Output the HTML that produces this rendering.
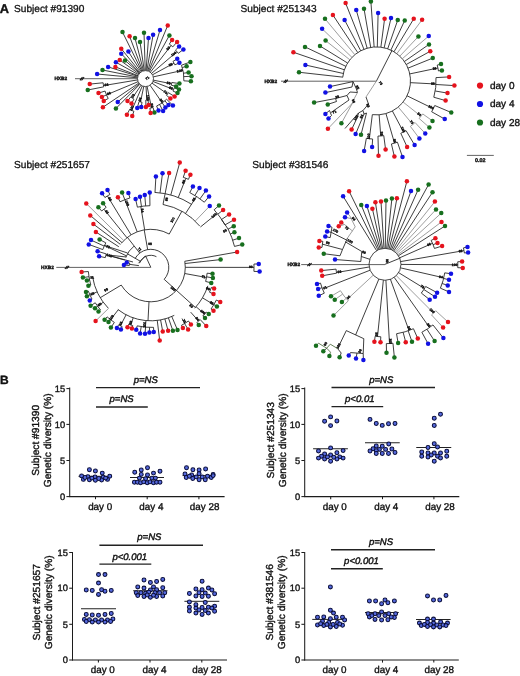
<!DOCTYPE html>
<html><head><meta charset="utf-8"><title>Figure</title>
<style>
html,body{margin:0;padding:0;background:#fff;overflow:hidden;}
svg{display:block;font-family:"Liberation Sans",sans-serif;fill:#111;}
text{text-rendering:geometricPrecision;fill:#111;stroke:#111;stroke-width:0.36px;}
.ti{stroke-width:0.3px;}
.pv{stroke-width:0.42px;}
</style></head><body>
<svg width="520" height="676" viewBox="0 0 520 676">
<rect width="520" height="676" fill="#fff"/>
<g opacity="0.999">
<g id="trees">
<text x="67.20" y="80.40" font-size="4.8" text-anchor="end" font-weight="bold" font-style="normal" fill="#111" stroke="none">HXB2</text>
<line x1="75.00" y1="78.70" x2="137.50" y2="78.70" stroke="#2e2e2e" stroke-width="0.75"/>
<line x1="79.90" y1="80.30" x2="82.50" y2="77.10" stroke="#111" stroke-width="1.1"/>
<line x1="81.50" y1="80.30" x2="84.10" y2="77.10" stroke="#111" stroke-width="1.1"/>
<line x1="153.31" y1="76.87" x2="183.00" y2="70.30" stroke="#1c1c1c" stroke-width="0.85"/>
<path d="M181.50 65.21A38.40755134084963 38.40755134084963 0 0 1 183.84 80.84" fill="none" stroke="#1c1c1c" stroke-width="0.85"/>
<line x1="181.50" y1="65.21" x2="190.40" y2="61.90" stroke="#1c1c1c" stroke-width="0.85"/>
<line x1="182.28" y1="67.55" x2="186.60" y2="66.25" stroke="#1c1c1c" stroke-width="0.85"/>
<line x1="183.53" y1="73.22" x2="188.60" y2="72.50" stroke="#1c1c1c" stroke-width="0.85"/>
<line x1="183.86" y1="76.64" x2="191.50" y2="76.25" stroke="#1c1c1c" stroke-width="0.85"/>
<line x1="183.84" y1="80.84" x2="190.90" y2="81.25" stroke="#1c1c1c" stroke-width="0.85"/>
<text x="179.88" y="71.99" font-size="3.4" font-weight="bold" fill="#000" stroke="none" text-anchor="middle" transform="rotate(-12 179.88 71.99)">100</text>
<line x1="153.35" y1="80.16" x2="171.57" y2="83.77" stroke="#1c1c1c" stroke-width="0.85"/>
<path d="M171.79 82.48A26.578473680657837 26.578473680657837 0 0 1 171.25 85.16" fill="none" stroke="#1c1c1c" stroke-width="0.85"/>
<line x1="171.79" y1="82.48" x2="179.40" y2="83.60" stroke="#1c1c1c" stroke-width="0.85"/>
<line x1="171.25" y1="85.16" x2="176.10" y2="86.40" stroke="#1c1c1c" stroke-width="0.85"/>
<text x="168.43" y="84.15" font-size="3.4" font-weight="bold" fill="#000" stroke="none" text-anchor="middle" transform="rotate(11 168.43 84.15)">85</text>
<line x1="152.96" y1="81.48" x2="173.61" y2="89.46" stroke="#1c1c1c" stroke-width="0.85"/>
<path d="M174.18 87.85A30.13189434118235 30.13189434118235 0 0 1 172.95 91.04" fill="none" stroke="#1c1c1c" stroke-width="0.85"/>
<line x1="174.18" y1="87.85" x2="179.00" y2="89.40" stroke="#1c1c1c" stroke-width="0.85"/>
<line x1="172.95" y1="91.04" x2="177.50" y2="93.10" stroke="#1c1c1c" stroke-width="0.85"/>
<text x="170.62" y="89.30" font-size="3.4" font-weight="bold" fill="#000" stroke="none" text-anchor="middle" transform="rotate(21 170.62 89.30)">99</text>
<line x1="152.05" y1="83.19" x2="167.52" y2="94.01" stroke="#1c1c1c" stroke-width="0.85"/>
<path d="M168.39 92.68A26.87506862737712 26.87506862737712 0 0 1 166.49 95.38" fill="none" stroke="#1c1c1c" stroke-width="0.85"/>
<line x1="168.39" y1="92.68" x2="174.60" y2="96.50" stroke="#1c1c1c" stroke-width="0.85"/>
<line x1="166.49" y1="95.38" x2="170.40" y2="98.50" stroke="#1c1c1c" stroke-width="0.85"/>
<text x="164.90" y="93.18" font-size="3.4" font-weight="bold" fill="#000" stroke="none" text-anchor="middle" transform="rotate(35 164.90 93.18)">71</text>
<line x1="150.04" y1="85.19" x2="162.26" y2="102.93" stroke="#1c1c1c" stroke-width="0.85"/>
<path d="M166.62 99.26A29.539832078341078 29.539832078341078 0 0 1 156.62 105.97" fill="none" stroke="#1c1c1c" stroke-width="0.85"/>
<line x1="166.62" y1="99.26" x2="172.90" y2="105.40" stroke="#1c1c1c" stroke-width="0.85"/>
<line x1="164.90" y1="100.87" x2="168.50" y2="105.00" stroke="#1c1c1c" stroke-width="0.85"/>
<line x1="162.25" y1="102.93" x2="165.40" y2="107.50" stroke="#1c1c1c" stroke-width="0.85"/>
<line x1="159.60" y1="104.56" x2="163.10" y2="111.00" stroke="#1c1c1c" stroke-width="0.85"/>
<line x1="156.62" y1="105.97" x2="158.50" y2="110.60" stroke="#1c1c1c" stroke-width="0.85"/>
<text x="160.44" y="101.29" font-size="3.4" font-weight="bold" fill="#000" stroke="none" text-anchor="middle" transform="rotate(55 160.44 101.29)">96</text>
<line x1="147.10" y1="86.44" x2="151.49" y2="107.87" stroke="#1c1c1c" stroke-width="0.85"/>
<path d="M153.09 107.50A29.87491935474546 29.87491935474546 0 0 1 149.87 108.15" fill="none" stroke="#1c1c1c" stroke-width="0.85"/>
<line x1="153.09" y1="107.50" x2="154.40" y2="112.50" stroke="#1c1c1c" stroke-width="0.85"/>
<line x1="149.87" y1="108.15" x2="150.60" y2="113.10" stroke="#1c1c1c" stroke-width="0.85"/>
<text x="150.85" y="105.73" font-size="3.4" font-weight="bold" fill="#000" stroke="none" text-anchor="middle" transform="rotate(78 150.85 105.73)">88</text>
<line x1="146.01" y1="86.58" x2="146.87" y2="100.04" stroke="#1c1c1c" stroke-width="0.85"/>
<path d="M148.01 99.93A21.482069405543076 21.482069405543076 0 0 1 145.80 100.08" fill="none" stroke="#1c1c1c" stroke-width="0.85"/>
<line x1="148.01" y1="99.93" x2="148.60" y2="104.90" stroke="#1c1c1c" stroke-width="0.85"/>
<line x1="145.80" y1="100.08" x2="145.90" y2="106.90" stroke="#1c1c1c" stroke-width="0.85"/>
<text x="146.67" y="97.84" font-size="3.4" font-weight="bold" fill="#000" stroke="none" text-anchor="middle" transform="rotate(86 146.67 97.84)">100</text>
<line x1="143.81" y1="86.42" x2="140.47" y2="101.88" stroke="#1c1c1c" stroke-width="0.85"/>
<path d="M141.99 102.15A23.81514358805105 23.81514358805105 0 0 1 139.07 101.53" fill="none" stroke="#1c1c1c" stroke-width="0.85"/>
<line x1="141.99" y1="102.15" x2="141.25" y2="107.10" stroke="#1c1c1c" stroke-width="0.85"/>
<line x1="139.07" y1="101.53" x2="137.25" y2="108.00" stroke="#1c1c1c" stroke-width="0.85"/>
<text x="141.15" y="99.75" font-size="3.4" font-weight="bold" fill="#000" stroke="none" text-anchor="middle" transform="rotate(282 141.15 99.75)">94</text>
<line x1="141.02" y1="85.23" x2="132.29" y2="98.12" stroke="#1c1c1c" stroke-width="0.85"/>
<path d="M133.95 99.14A23.565888748645655 23.565888748645655 0 0 1 130.74 96.97" fill="none" stroke="#1c1c1c" stroke-width="0.85"/>
<line x1="133.95" y1="99.14" x2="131.50" y2="103.50" stroke="#1c1c1c" stroke-width="0.85"/>
<line x1="130.74" y1="96.97" x2="127.50" y2="101.00" stroke="#1c1c1c" stroke-width="0.85"/>
<text x="134.09" y="96.47" font-size="3.4" font-weight="bold" fill="#000" stroke="none" text-anchor="middle" transform="rotate(304 134.09 96.47)">73</text>
<line x1="142.32" y1="85.94" x2="131.72" y2="110.42" stroke="#1c1c1c" stroke-width="0.85"/>
<path d="M133.92 111.29A34.67773305016304 34.67773305016304 0 0 1 129.63 109.44" fill="none" stroke="#1c1c1c" stroke-width="0.85"/>
<line x1="129.63" y1="109.44" x2="126.90" y2="114.75" stroke="#1c1c1c" stroke-width="0.85"/>
<line x1="133.92" y1="111.29" x2="132.25" y2="116.00" stroke="#1c1c1c" stroke-width="0.85"/>
<text x="132.99" y="108.49" font-size="3.4" font-weight="bold" fill="#000" stroke="none" text-anchor="middle" transform="rotate(293 132.99 108.49)">100</text>
<line x1="138.11" y1="81.67" x2="106.46" y2="94.85" stroke="#1c1c1c" stroke-width="0.85"/>
<path d="M108.20 98.52A42.28477556254233 42.28477556254233 0 0 1 105.09 91.07" fill="none" stroke="#1c1c1c" stroke-width="0.85"/>
<line x1="108.20" y1="98.52" x2="103.75" y2="100.90" stroke="#1c1c1c" stroke-width="0.85"/>
<line x1="106.51" y1="94.96" x2="101.90" y2="96.90" stroke="#1c1c1c" stroke-width="0.85"/>
<line x1="105.09" y1="91.07" x2="98.50" y2="93.10" stroke="#1c1c1c" stroke-width="0.85"/>
<text x="109.42" y="94.62" font-size="3.4" font-weight="bold" fill="#000" stroke="none" text-anchor="middle" transform="rotate(337 109.42 94.62)">86</text>
<line x1="137.61" y1="79.92" x2="103.50" y2="85.60" stroke="#1c1c1c" stroke-width="0.85"/>
<path d="M103.73 86.85A42.579337712087536 42.579337712087536 0 0 1 103.13 82.78" fill="none" stroke="#1c1c1c" stroke-width="0.85"/>
<line x1="103.73" y1="86.85" x2="87.75" y2="90.00" stroke="#1c1c1c" stroke-width="0.85"/>
<line x1="103.13" y1="82.78" x2="89.75" y2="84.10" stroke="#1c1c1c" stroke-width="0.85"/>
<text x="106.66" y="86.07" font-size="3.4" font-weight="bold" fill="#000" stroke="none" text-anchor="middle" transform="rotate(351 106.66 86.07)">98</text>
<line x1="151.58" y1="73.40" x2="176.95" y2="51.68" stroke="#1c1c1c" stroke-width="0.85"/>
<path d="M175.48 50.05A41.399999999999984 41.399999999999984 0 0 1 178.30 53.33" fill="none" stroke="#1c1c1c" stroke-width="0.85"/>
<line x1="175.48" y1="50.05" x2="179.10" y2="46.60" stroke="#1c1c1c" stroke-width="0.85"/>
<line x1="178.30" y1="53.33" x2="183.40" y2="49.40" stroke="#1c1c1c" stroke-width="0.85"/>
<text x="174.52" y="54.76" font-size="3.4" font-weight="bold" fill="#000" stroke="none" text-anchor="middle" transform="rotate(-41 174.52 54.76)">100</text>
<line x1="152.53" y1="74.78" x2="173.98" y2="63.11" stroke="#1c1c1c" stroke-width="0.85"/>
<path d="M172.99 61.41A32.422352945799666 32.422352945799666 0 0 1 174.87 64.87" fill="none" stroke="#1c1c1c" stroke-width="0.85"/>
<line x1="172.99" y1="61.41" x2="177.25" y2="58.75" stroke="#1c1c1c" stroke-width="0.85"/>
<line x1="174.87" y1="64.87" x2="179.40" y2="62.75" stroke="#1c1c1c" stroke-width="0.85"/>
<text x="171.17" y="65.64" font-size="3.4" font-weight="bold" fill="#000" stroke="none" text-anchor="middle" transform="rotate(-29 171.17 65.64)">85</text>
<line x1="150.39" y1="72.27" x2="171.11" y2="45.47" stroke="#1c1c1c" stroke-width="0.85"/>
<path d="M169.26 44.12A41.87771325480797 41.87771325480797 0 0 1 172.82 46.87" fill="none" stroke="#1c1c1c" stroke-width="0.85"/>
<line x1="169.26" y1="44.12" x2="172.10" y2="40.00" stroke="#1c1c1c" stroke-width="0.85"/>
<line x1="172.82" y1="46.87" x2="177.10" y2="41.90" stroke="#1c1c1c" stroke-width="0.85"/>
<text x="169.15" y="49.00" font-size="3.4" font-weight="bold" fill="#000" stroke="none" text-anchor="middle" transform="rotate(-52 169.15 49.00)">99</text>
<line x1="141.95" y1="71.43" x2="122.50" y2="32.10" stroke="#1c1c1c" stroke-width="0.85"/>
<line x1="142.69" y1="71.11" x2="129.60" y2="36.30" stroke="#1c1c1c" stroke-width="0.85"/>
<line x1="143.49" y1="70.86" x2="135.00" y2="38.10" stroke="#1c1c1c" stroke-width="0.85"/>
<line x1="144.31" y1="70.69" x2="140.00" y2="41.90" stroke="#1c1c1c" stroke-width="0.85"/>
<line x1="145.24" y1="70.60" x2="144.00" y2="32.75" stroke="#1c1c1c" stroke-width="0.85"/>
<line x1="146.09" y1="70.62" x2="148.50" y2="38.10" stroke="#1c1c1c" stroke-width="0.85"/>
<line x1="146.87" y1="70.72" x2="153.10" y2="34.75" stroke="#1c1c1c" stroke-width="0.85"/>
<line x1="147.79" y1="70.93" x2="160.00" y2="30.00" stroke="#1c1c1c" stroke-width="0.85"/>
<line x1="148.59" y1="71.22" x2="167.75" y2="25.40" stroke="#1c1c1c" stroke-width="0.85"/>
<line x1="149.37" y1="71.60" x2="169.40" y2="35.40" stroke="#1c1c1c" stroke-width="0.85"/>
<line x1="139.37" y1="83.74" x2="117.75" y2="101.90" stroke="#1c1c1c" stroke-width="0.85"/>
<line x1="139.87" y1="84.29" x2="115.90" y2="108.50" stroke="#1c1c1c" stroke-width="0.85"/>
<line x1="138.86" y1="83.06" x2="102.90" y2="107.25" stroke="#1c1c1c" stroke-width="0.85"/>
<line x1="137.54" y1="77.84" x2="97.10" y2="74.00" stroke="#1c1c1c" stroke-width="0.85"/>
<line x1="137.66" y1="77.03" x2="102.50" y2="70.00" stroke="#1c1c1c" stroke-width="0.85"/>
<line x1="137.86" y1="76.21" x2="108.10" y2="66.90" stroke="#1c1c1c" stroke-width="0.85"/>
<line x1="138.04" y1="75.70" x2="115.40" y2="66.90" stroke="#1c1c1c" stroke-width="0.85"/>
<line x1="138.50" y1="74.73" x2="115.90" y2="62.25" stroke="#1c1c1c" stroke-width="0.85"/>
<line x1="139.01" y1="73.92" x2="119.75" y2="60.00" stroke="#1c1c1c" stroke-width="0.85"/>
<line x1="139.52" y1="73.29" x2="125.00" y2="60.40" stroke="#1c1c1c" stroke-width="0.85"/>
<line x1="139.91" y1="72.87" x2="121.25" y2="53.75" stroke="#1c1c1c" stroke-width="0.85"/>
<line x1="141.22" y1="71.84" x2="128.40" y2="51.60" stroke="#1c1c1c" stroke-width="0.85"/>
<line x1="140.46" y1="72.39" x2="121.25" y2="48.75" stroke="#1c1c1c" stroke-width="0.85"/>
<circle cx="145.5" cy="78.6" r="8.0" fill="#fff" stroke="#1c1c1c" stroke-width="0.8"/>
<text x="148.00" y="79.10" font-size="3.4" font-weight="bold" fill="#000" stroke="none" text-anchor="middle" transform="rotate(-35 148.00 79.10)">71</text>
<circle cx="122.50" cy="32.10" r="2.25" fill="#176f1e"/>
<circle cx="129.60" cy="36.30" r="2.25" fill="#e5131d"/>
<circle cx="135.00" cy="38.10" r="2.25" fill="#176f1e"/>
<circle cx="140.00" cy="41.90" r="2.25" fill="#176f1e"/>
<circle cx="144.00" cy="32.75" r="2.25" fill="#176f1e"/>
<circle cx="148.50" cy="38.10" r="2.25" fill="#1111e4"/>
<circle cx="153.10" cy="34.75" r="2.25" fill="#1111e4"/>
<circle cx="160.00" cy="30.00" r="2.25" fill="#1111e4"/>
<circle cx="167.75" cy="25.40" r="2.25" fill="#e5131d"/>
<circle cx="169.40" cy="35.40" r="2.25" fill="#176f1e"/>
<circle cx="172.10" cy="40.00" r="2.25" fill="#e5131d"/>
<circle cx="177.10" cy="41.90" r="2.25" fill="#e5131d"/>
<circle cx="179.10" cy="46.60" r="2.25" fill="#1111e4"/>
<circle cx="183.40" cy="49.40" r="2.25" fill="#1111e4"/>
<circle cx="177.25" cy="58.75" r="2.25" fill="#1111e4"/>
<circle cx="179.40" cy="62.75" r="2.25" fill="#1111e4"/>
<circle cx="190.40" cy="61.90" r="2.25" fill="#176f1e"/>
<circle cx="186.60" cy="66.25" r="2.25" fill="#176f1e"/>
<circle cx="188.60" cy="72.50" r="2.25" fill="#176f1e"/>
<circle cx="191.50" cy="76.25" r="2.25" fill="#176f1e"/>
<circle cx="190.90" cy="81.25" r="2.25" fill="#176f1e"/>
<circle cx="179.40" cy="83.60" r="2.25" fill="#176f1e"/>
<circle cx="176.10" cy="86.40" r="2.25" fill="#176f1e"/>
<circle cx="179.00" cy="89.40" r="2.25" fill="#176f1e"/>
<circle cx="177.50" cy="93.10" r="2.25" fill="#176f1e"/>
<circle cx="174.60" cy="96.50" r="2.25" fill="#e5131d"/>
<circle cx="170.40" cy="98.50" r="2.25" fill="#e5131d"/>
<circle cx="172.90" cy="105.40" r="2.25" fill="#1111e4"/>
<circle cx="168.50" cy="105.00" r="2.25" fill="#1111e4"/>
<circle cx="165.40" cy="107.50" r="2.25" fill="#1111e4"/>
<circle cx="163.10" cy="111.00" r="2.25" fill="#1111e4"/>
<circle cx="158.50" cy="110.60" r="2.25" fill="#1111e4"/>
<circle cx="154.40" cy="112.50" r="2.25" fill="#176f1e"/>
<circle cx="150.60" cy="113.10" r="2.25" fill="#e5131d"/>
<circle cx="148.60" cy="104.90" r="2.25" fill="#e5131d"/>
<circle cx="145.90" cy="106.90" r="2.25" fill="#e5131d"/>
<circle cx="141.25" cy="107.10" r="2.25" fill="#1111e4"/>
<circle cx="137.25" cy="108.00" r="2.25" fill="#1111e4"/>
<circle cx="131.50" cy="103.50" r="2.25" fill="#e5131d"/>
<circle cx="127.50" cy="101.00" r="2.25" fill="#e5131d"/>
<circle cx="126.90" cy="114.75" r="2.25" fill="#e5131d"/>
<circle cx="132.25" cy="116.00" r="2.25" fill="#e5131d"/>
<circle cx="117.75" cy="101.90" r="2.25" fill="#1111e4"/>
<circle cx="115.90" cy="108.50" r="2.25" fill="#176f1e"/>
<circle cx="102.90" cy="107.25" r="2.25" fill="#e5131d"/>
<circle cx="103.75" cy="100.90" r="2.25" fill="#e5131d"/>
<circle cx="101.90" cy="96.90" r="2.25" fill="#e5131d"/>
<circle cx="98.50" cy="93.10" r="2.25" fill="#e5131d"/>
<circle cx="87.75" cy="90.00" r="2.25" fill="#176f1e"/>
<circle cx="89.75" cy="84.10" r="2.25" fill="#e5131d"/>
<circle cx="97.10" cy="74.00" r="2.25" fill="#1111e4"/>
<circle cx="102.50" cy="70.00" r="2.25" fill="#176f1e"/>
<circle cx="108.10" cy="66.90" r="2.25" fill="#1111e4"/>
<circle cx="115.40" cy="66.90" r="2.25" fill="#e5131d"/>
<circle cx="115.90" cy="62.25" r="2.25" fill="#1111e4"/>
<circle cx="119.75" cy="60.00" r="2.25" fill="#e5131d"/>
<circle cx="125.00" cy="60.40" r="2.25" fill="#176f1e"/>
<circle cx="121.25" cy="53.75" r="2.25" fill="#1111e4"/>
<circle cx="128.40" cy="51.60" r="2.25" fill="#1111e4"/>
<circle cx="121.25" cy="48.75" r="2.25" fill="#e5131d"/>
<text x="277.20" y="82.90" font-size="4.8" text-anchor="end" font-weight="bold" font-style="normal" fill="#111" stroke="none">HXB2</text>
<line x1="281.00" y1="81.20" x2="376.50" y2="81.20" stroke="#2e2e2e" stroke-width="0.75"/>
<line x1="283.60" y1="82.80" x2="286.20" y2="79.60" stroke="#111" stroke-width="1.1"/>
<line x1="285.20" y1="82.80" x2="287.80" y2="79.60" stroke="#111" stroke-width="1.1"/>
<path d="M342.69 77.35A34.0 34.0 0 1 1 372.36 114.65" fill="none" stroke="#1c1c1c" stroke-width="0.85"/>
<line x1="376.50" y1="80.90" x2="391.94" y2="50.61" stroke="#1c1c1c" stroke-width="0.85"/>
<line x1="409.77" y1="73.91" x2="437.90" y2="68.00" stroke="#1c1c1c" stroke-width="0.85"/>
<path d="M437.21 65.09A62.737527127754376 62.737527127754376 0 0 1 438.44 70.95" fill="none" stroke="#1c1c1c" stroke-width="0.85"/>
<line x1="437.21" y1="65.09" x2="441.00" y2="64.10" stroke="#1c1c1c" stroke-width="0.85"/>
<line x1="438.44" y1="70.95" x2="441.90" y2="70.40" stroke="#1c1c1c" stroke-width="0.85"/>
<text x="434.76" y="69.65" font-size="3.4" font-weight="bold" fill="#000" stroke="none" text-anchor="middle" transform="rotate(-12 434.76 69.65)">96</text>
<line x1="410.45" y1="82.67" x2="436.00" y2="84.00" stroke="#1c1c1c" stroke-width="0.85"/>
<path d="M435.99 77.62A59.580701573580015 59.580701573580015 0 0 1 433.80 97.24" fill="none" stroke="#1c1c1c" stroke-width="0.85"/>
<line x1="435.99" y1="77.62" x2="449.10" y2="76.90" stroke="#1c1c1c" stroke-width="0.85"/>
<line x1="435.97" y1="84.49" x2="454.40" y2="85.60" stroke="#1c1c1c" stroke-width="0.85"/>
<line x1="435.22" y1="90.99" x2="447.50" y2="93.10" stroke="#1c1c1c" stroke-width="0.85"/>
<line x1="433.80" y1="97.24" x2="445.60" y2="100.60" stroke="#1c1c1c" stroke-width="0.85"/>
<text x="432.80" y="84.83" font-size="3.4" font-weight="bold" fill="#000" stroke="none" text-anchor="middle" transform="rotate(3 432.80 84.83)">88</text>
<line x1="407.05" y1="95.81" x2="433.31" y2="108.63" stroke="#1c1c1c" stroke-width="0.85"/>
<path d="M434.72 105.51A63.213186228410365 63.213186228410365 0 0 1 431.66 111.77" fill="none" stroke="#1c1c1c" stroke-width="0.85"/>
<line x1="434.72" y1="105.51" x2="451.25" y2="112.50" stroke="#1c1c1c" stroke-width="0.85"/>
<line x1="431.66" y1="111.77" x2="444.75" y2="119.10" stroke="#1c1c1c" stroke-width="0.85"/>
<text x="430.43" y="108.22" font-size="3.4" font-weight="bold" fill="#000" stroke="none" text-anchor="middle" transform="rotate(26 430.43 108.22)">100</text>
<line x1="403.11" y1="102.06" x2="420.97" y2="116.26" stroke="#8c8c8c" stroke-width="0.85"/>
<path d="M422.74 113.93A56.818602136341006 56.818602136341006 0 0 1 419.14 118.46" fill="none" stroke="#8c8c8c" stroke-width="0.85"/>
<line x1="422.74" y1="113.93" x2="432.50" y2="120.90" stroke="#8c8c8c" stroke-width="0.85"/>
<line x1="419.14" y1="118.46" x2="429.40" y2="127.50" stroke="#8c8c8c" stroke-width="0.85"/>
<text x="418.47" y="115.27" font-size="3.4" font-weight="bold" fill="#000" stroke="none" text-anchor="middle" transform="rotate(38 418.47 115.27)">94</text>
<line x1="398.24" y1="107.04" x2="412.77" y2="124.51" stroke="#8c8c8c" stroke-width="0.85"/>
<path d="M415.05 122.50A56.71696103433273 56.71696103433273 0 0 1 410.38 126.39" fill="none" stroke="#8c8c8c" stroke-width="0.85"/>
<line x1="415.05" y1="122.50" x2="425.25" y2="133.50" stroke="#8c8c8c" stroke-width="0.85"/>
<line x1="410.38" y1="126.39" x2="419.40" y2="138.50" stroke="#8c8c8c" stroke-width="0.85"/>
<text x="410.72" y="123.05" font-size="3.4" font-weight="bold" fill="#000" stroke="none" text-anchor="middle" transform="rotate(50 410.72 123.05)">73</text>
<line x1="392.38" y1="110.97" x2="403.47" y2="131.97" stroke="#1c1c1c" stroke-width="0.85"/>
<path d="M406.01 130.54A57.74860823410989 57.74860823410989 0 0 1 400.79 133.29" fill="none" stroke="#1c1c1c" stroke-width="0.85"/>
<line x1="406.01" y1="130.54" x2="414.60" y2="145.00" stroke="#1c1c1c" stroke-width="0.85"/>
<line x1="400.79" y1="133.29" x2="407.10" y2="146.90" stroke="#1c1c1c" stroke-width="0.85"/>
<text x="401.97" y="130.14" font-size="3.4" font-weight="bold" fill="#000" stroke="none" text-anchor="middle" transform="rotate(62 401.97 130.14)">100</text>
<line x1="385.95" y1="113.56" x2="394.50" y2="143.14" stroke="#1c1c1c" stroke-width="0.85"/>
<path d="M397.45 142.21A64.78753113449478 64.78753113449478 0 0 1 391.41 143.95" fill="none" stroke="#1c1c1c" stroke-width="0.85"/>
<line x1="397.45" y1="142.21" x2="402.50" y2="157.00" stroke="#1c1c1c" stroke-width="0.85"/>
<line x1="391.41" y1="143.95" x2="394.40" y2="156.60" stroke="#1c1c1c" stroke-width="0.85"/>
<text x="393.61" y="141.06" font-size="3.4" font-weight="bold" fill="#000" stroke="none" text-anchor="middle" transform="rotate(74 393.61 141.06)">86</text>
<line x1="379.12" y1="114.80" x2="380.76" y2="135.94" stroke="#1c1c1c" stroke-width="0.85"/>
<path d="M383.76 135.62A55.20093929998348 55.20093929998348 0 0 1 377.97 136.08" fill="none" stroke="#1c1c1c" stroke-width="0.85"/>
<line x1="383.76" y1="135.62" x2="385.60" y2="149.50" stroke="#1c1c1c" stroke-width="0.85"/>
<line x1="377.97" y1="136.08" x2="378.50" y2="155.75" stroke="#1c1c1c" stroke-width="0.85"/>
<text x="380.51" y="133.75" font-size="3.4" font-weight="bold" fill="#000" stroke="none" text-anchor="middle" transform="rotate(86 380.51 133.75)">98</text>
<line x1="372.34" y1="114.64" x2="369.37" y2="138.71" stroke="#1c1c1c" stroke-width="0.85"/>
<path d="M372.63 139.02A58.24628291459074 58.24628291459074 0 0 1 366.35 138.26" fill="none" stroke="#1c1c1c" stroke-width="0.85"/>
<line x1="372.63" y1="139.02" x2="372.10" y2="147.00" stroke="#1c1c1c" stroke-width="0.85"/>
<line x1="366.35" y1="138.26" x2="364.10" y2="151.00" stroke="#1c1c1c" stroke-width="0.85"/>
<text x="369.76" y="136.53" font-size="3.4" font-weight="bold" fill="#000" stroke="none" text-anchor="middle" transform="rotate(277 369.76 136.53)">100</text>
<line x1="363.95" y1="49.30" x2="345.60" y2="3.10" stroke="#1c1c1c" stroke-width="0.85"/>
<line x1="357.74" y1="52.54" x2="332.90" y2="15.00" stroke="#1c1c1c" stroke-width="0.85"/>
<line x1="360.72" y1="50.78" x2="344.60" y2="20.00" stroke="#1c1c1c" stroke-width="0.85"/>
<line x1="354.81" y1="54.72" x2="325.00" y2="18.75" stroke="#8c8c8c" stroke-width="0.85"/>
<line x1="351.96" y1="57.37" x2="322.10" y2="28.75" stroke="#8c8c8c" stroke-width="0.85"/>
<line x1="349.84" y1="59.79" x2="325.60" y2="40.60" stroke="#8c8c8c" stroke-width="0.85"/>
<line x1="347.57" y1="63.03" x2="320.00" y2="46.00" stroke="#1c1c1c" stroke-width="0.85"/>
<line x1="345.79" y1="66.30" x2="305.00" y2="46.90" stroke="#1c1c1c" stroke-width="0.85"/>
<line x1="344.36" y1="69.82" x2="293.40" y2="52.25" stroke="#1c1c1c" stroke-width="0.85"/>
<line x1="343.32" y1="73.48" x2="305.40" y2="65.00" stroke="#1c1c1c" stroke-width="0.85"/>
<line x1="342.71" y1="77.13" x2="299.00" y2="72.25" stroke="#1c1c1c" stroke-width="0.85"/>
<line x1="367.16" y1="48.21" x2="356.25" y2="10.00" stroke="#1c1c1c" stroke-width="0.85"/>
<line x1="370.70" y1="47.40" x2="364.00" y2="8.75" stroke="#1c1c1c" stroke-width="0.85"/>
<line x1="374.11" y1="46.98" x2="370.90" y2="1.50" stroke="#1c1c1c" stroke-width="0.85"/>
<line x1="377.30" y1="46.91" x2="378.10" y2="13.10" stroke="#1c1c1c" stroke-width="0.85"/>
<line x1="380.89" y1="47.19" x2="384.60" y2="18.75" stroke="#1c1c1c" stroke-width="0.85"/>
<line x1="384.15" y1="47.77" x2="391.00" y2="18.10" stroke="#1c1c1c" stroke-width="0.85"/>
<line x1="387.70" y1="48.80" x2="397.75" y2="20.00" stroke="#1c1c1c" stroke-width="0.85"/>
<line x1="390.89" y1="50.09" x2="404.75" y2="20.40" stroke="#1c1c1c" stroke-width="0.85"/>
<line x1="393.98" y1="51.74" x2="413.75" y2="18.75" stroke="#1c1c1c" stroke-width="0.85"/>
<line x1="396.83" y1="53.64" x2="422.10" y2="19.75" stroke="#8c8c8c" stroke-width="0.85"/>
<line x1="399.84" y1="56.17" x2="418.40" y2="36.50" stroke="#8c8c8c" stroke-width="0.85"/>
<line x1="402.29" y1="58.74" x2="428.75" y2="36.00" stroke="#8c8c8c" stroke-width="0.85"/>
<line x1="404.42" y1="61.49" x2="429.00" y2="44.40" stroke="#1c1c1c" stroke-width="0.85"/>
<line x1="406.27" y1="64.48" x2="430.25" y2="51.25" stroke="#1c1c1c" stroke-width="0.85"/>
<line x1="408.01" y1="68.13" x2="432.75" y2="58.10" stroke="#1c1c1c" stroke-width="0.85"/>
<line x1="376.50" y1="80.90" x2="366.00" y2="97.00" stroke="#8c8c8c" stroke-width="0.85"/>
<line x1="353.00" y1="81.60" x2="330.00" y2="86.60" stroke="#1c1c1c" stroke-width="0.85"/>
<polyline points="353.00,81.60 352.00,87.00 325.40,92.60" fill="none" stroke="#1c1c1c" stroke-width="0.85"/>
<polyline points="353.00,81.60 356.00,88.00 357.50,92.50" fill="none" stroke="#1c1c1c" stroke-width="0.85"/>
<text x="356.50" y="88.00" font-size="3.4" font-weight="bold" fill="#000" stroke="none" text-anchor="middle" transform="rotate(60 356.50 88.00)">85</text>
<polyline points="357.50,92.50 350.00,92.00 347.00,95.50" fill="none" stroke="#1c1c1c" stroke-width="0.85"/>
<polyline points="347.00,95.50 335.50,98.50 314.10,102.60" fill="none" stroke="#1c1c1c" stroke-width="0.85"/>
<polyline points="335.50,98.50 336.50,101.50 327.75,104.40" fill="none" stroke="#1c1c1c" stroke-width="0.85"/>
<text x="337.50" y="98.00" font-size="3.4" font-weight="bold" fill="#000" stroke="none" text-anchor="middle" transform="rotate(-15 337.50 98.00)">99</text>
<polyline points="347.00,95.50 349.00,100.00 331.00,112.50" fill="none" stroke="#1c1c1c" stroke-width="0.85"/>
<polyline points="329.50,110.50 331.50,115.50" fill="none" stroke="#1c1c1c" stroke-width="0.85"/>
<line x1="329.50" y1="110.50" x2="325.40" y2="113.90" stroke="#1c1c1c" stroke-width="0.85"/>
<line x1="331.50" y1="115.50" x2="328.50" y2="118.50" stroke="#1c1c1c" stroke-width="0.85"/>
<text x="335.00" y="113.00" font-size="3.4" font-weight="bold" fill="#000" stroke="none" text-anchor="middle" transform="rotate(-30 335.00 113.00)">71</text>
<polyline points="357.50,92.50 354.00,99.00 352.50,103.00 341.40,123.25" fill="none" stroke="#8c8c8c" stroke-width="0.85"/>
<line x1="352.50" y1="103.00" x2="327.90" y2="128.75" stroke="#8c8c8c" stroke-width="0.85"/>
<text x="352.50" y="101.50" font-size="3.4" font-weight="bold" fill="#000" stroke="none" text-anchor="middle" transform="rotate(70 352.50 101.50)">96</text>
<polyline points="366.00,97.00 368.50,104.00 363.00,110.50" fill="none" stroke="#1c1c1c" stroke-width="0.85"/>
<text x="367.00" y="106.00" font-size="3.4" font-weight="bold" fill="#000" stroke="none" text-anchor="middle" transform="rotate(65 367.00 106.00)">88</text>
<polyline points="363.00,110.50 358.50,113.00 345.00,128.50" fill="none" stroke="#1c1c1c" stroke-width="0.85"/>
<polyline points="358.50,113.00 357.50,117.00 351.60,129.50" fill="none" stroke="#1c1c1c" stroke-width="0.85"/>
<text x="357.00" y="118.50" font-size="3.4" font-weight="bold" fill="#000" stroke="none" text-anchor="middle" transform="rotate(-55 357.00 118.50)">100</text>
<polyline points="363.00,110.50 364.00,114.00 355.60,134.10" fill="none" stroke="#1c1c1c" stroke-width="0.85"/>
<polyline points="364.00,114.00 366.50,113.00 361.00,134.75" fill="none" stroke="#1c1c1c" stroke-width="0.85"/>
<text x="362.50" y="117.00" font-size="3.4" font-weight="bold" fill="#000" stroke="none" text-anchor="middle" transform="rotate(-65 362.50 117.00)">94</text>
<circle cx="345.60" cy="3.10" r="2.25" fill="#e5131d"/>
<circle cx="332.90" cy="15.00" r="2.25" fill="#e5131d"/>
<circle cx="344.60" cy="20.00" r="2.25" fill="#1111e4"/>
<circle cx="325.00" cy="18.75" r="2.25" fill="#176f1e"/>
<circle cx="322.10" cy="28.75" r="2.25" fill="#1111e4"/>
<circle cx="325.60" cy="40.60" r="2.25" fill="#176f1e"/>
<circle cx="320.00" cy="46.00" r="2.25" fill="#176f1e"/>
<circle cx="305.00" cy="46.90" r="2.25" fill="#176f1e"/>
<circle cx="293.40" cy="52.25" r="2.25" fill="#e5131d"/>
<circle cx="305.40" cy="65.00" r="2.25" fill="#1111e4"/>
<circle cx="299.00" cy="72.25" r="2.25" fill="#176f1e"/>
<circle cx="356.25" cy="10.00" r="2.25" fill="#1111e4"/>
<circle cx="364.00" cy="8.75" r="2.25" fill="#176f1e"/>
<circle cx="370.90" cy="1.50" r="2.25" fill="#176f1e"/>
<circle cx="378.10" cy="13.10" r="2.25" fill="#1111e4"/>
<circle cx="384.60" cy="18.75" r="2.25" fill="#e5131d"/>
<circle cx="391.00" cy="18.10" r="2.25" fill="#1111e4"/>
<circle cx="397.75" cy="20.00" r="2.25" fill="#176f1e"/>
<circle cx="404.75" cy="20.40" r="2.25" fill="#176f1e"/>
<circle cx="413.75" cy="18.75" r="2.25" fill="#e5131d"/>
<circle cx="422.10" cy="19.75" r="2.25" fill="#e5131d"/>
<circle cx="418.40" cy="36.50" r="2.25" fill="#176f1e"/>
<circle cx="428.75" cy="36.00" r="2.25" fill="#1111e4"/>
<circle cx="429.00" cy="44.40" r="2.25" fill="#176f1e"/>
<circle cx="430.25" cy="51.25" r="2.25" fill="#e5131d"/>
<circle cx="432.75" cy="58.10" r="2.25" fill="#176f1e"/>
<circle cx="441.00" cy="64.10" r="2.25" fill="#176f1e"/>
<circle cx="441.90" cy="70.40" r="2.25" fill="#176f1e"/>
<circle cx="449.10" cy="76.90" r="2.25" fill="#e5131d"/>
<circle cx="454.40" cy="85.60" r="2.25" fill="#e5131d"/>
<circle cx="447.50" cy="93.10" r="2.25" fill="#e5131d"/>
<circle cx="445.60" cy="100.60" r="2.25" fill="#e5131d"/>
<circle cx="451.25" cy="112.50" r="2.25" fill="#176f1e"/>
<circle cx="444.75" cy="119.10" r="2.25" fill="#1111e4"/>
<circle cx="432.50" cy="120.90" r="2.25" fill="#176f1e"/>
<circle cx="429.40" cy="127.50" r="2.25" fill="#176f1e"/>
<circle cx="425.25" cy="133.50" r="2.25" fill="#1111e4"/>
<circle cx="419.40" cy="138.50" r="2.25" fill="#1111e4"/>
<circle cx="414.60" cy="145.00" r="2.25" fill="#1111e4"/>
<circle cx="407.10" cy="146.90" r="2.25" fill="#e5131d"/>
<circle cx="402.50" cy="157.00" r="2.25" fill="#1111e4"/>
<circle cx="394.40" cy="156.60" r="2.25" fill="#e5131d"/>
<circle cx="385.60" cy="149.50" r="2.25" fill="#e5131d"/>
<circle cx="378.50" cy="155.75" r="2.25" fill="#e5131d"/>
<circle cx="372.10" cy="147.00" r="2.25" fill="#1111e4"/>
<circle cx="364.10" cy="151.00" r="2.25" fill="#1111e4"/>
<circle cx="361.00" cy="134.75" r="2.25" fill="#176f1e"/>
<circle cx="355.60" cy="134.10" r="2.25" fill="#1111e4"/>
<circle cx="351.60" cy="129.50" r="2.25" fill="#e5131d"/>
<circle cx="341.40" cy="123.25" r="2.25" fill="#176f1e"/>
<circle cx="327.90" cy="128.75" r="2.25" fill="#e5131d"/>
<circle cx="328.50" cy="118.50" r="2.25" fill="#1111e4"/>
<circle cx="325.40" cy="113.90" r="2.25" fill="#1111e4"/>
<circle cx="327.75" cy="104.40" r="2.25" fill="#176f1e"/>
<circle cx="314.10" cy="102.60" r="2.25" fill="#176f1e"/>
<circle cx="325.40" cy="92.60" r="2.25" fill="#1111e4"/>
<circle cx="330.00" cy="86.60" r="2.25" fill="#1111e4"/>
<text x="379.70" y="83.70" font-size="3.4" font-weight="bold" fill="#000" stroke="none" text-anchor="middle" transform="rotate(55 379.70 83.70)">73</text>
<text x="53.90" y="269.10" font-size="4.8" text-anchor="end" font-weight="bold" font-style="normal" fill="#111" stroke="none">HXB2</text>
<line x1="56.30" y1="267.40" x2="150.80" y2="267.40" stroke="#2e2e2e" stroke-width="0.75"/>
<line x1="64.90" y1="269.00" x2="67.50" y2="265.80" stroke="#111" stroke-width="1.1"/>
<line x1="66.50" y1="269.00" x2="69.10" y2="265.80" stroke="#111" stroke-width="1.1"/>
<path d="M139.52 263.20A12 12 0 0 1 156.43 256.70" fill="none" stroke="#1c1c1c" stroke-width="0.85"/>
<path d="M135.21 258.30A18 18 0 1 1 164.18 279.34" fill="none" stroke="#1c1c1c" stroke-width="0.85"/>
<path d="M121.27 243.39A38 38 0 0 1 169.22 234.06" fill="none" stroke="#1c1c1c" stroke-width="0.85"/>
<path d="M163.01 204.48A64 64 0 0 1 199.83 226.16" fill="none" stroke="#1c1c1c" stroke-width="0.85"/>
<path d="M154.73 192.40A75 75 0 0 1 191.65 204.40" fill="none" stroke="#1c1c1c" stroke-width="0.85"/>
<path d="M184.78 261.31A34.5 34.5 0 0 1 121.23 285.07" fill="none" stroke="#1c1c1c" stroke-width="0.85"/>
<path d="M174.25 315.39A53.5 53.5 0 0 1 117.86 309.46" fill="none" stroke="#1c1c1c" stroke-width="0.85"/>
<path d="M108.36 308.28A59 59 0 0 1 92.53 276.53" fill="none" stroke="#1c1c1c" stroke-width="0.85"/>
<path d="M207.86 285.84A60 60 0 0 1 194.68 308.22" fill="none" stroke="#1c1c1c" stroke-width="0.85"/>
<path d="M125.77 257.19A27 27 0 0 1 134.18 246.02" fill="none" stroke="#1c1c1c" stroke-width="0.85"/>
<polyline points="138.50,263.20 145.50,255.80 150.80,267.30" fill="none" stroke="#1c1c1c" stroke-width="0.85"/>
<line x1="169.22" y1="234.06" x2="181.83" y2="211.32" stroke="#1c1c1c" stroke-width="0.85"/>
<text x="173.60" y="220.56" font-size="3.4" font-weight="bold" fill="#000" stroke="none" text-anchor="middle" transform="rotate(-61 173.60 220.56)">100</text>
<line x1="163.01" y1="204.48" x2="165.11" y2="193.68" stroke="#1c1c1c" stroke-width="0.85"/>
<text x="167.73" y="199.38" font-size="3.4" font-weight="bold" fill="#000" stroke="none" text-anchor="middle" transform="rotate(-80 167.73 199.38)">86</text>
<line x1="147.67" y1="249.57" x2="144.20" y2="229.88" stroke="#1c1c1c" stroke-width="0.85"/>
<text x="150.03" y="245.31" font-size="3.4" font-weight="bold" fill="#000" stroke="none" text-anchor="middle" transform="rotate(0 150.03 245.31)">98</text>
<line x1="164.18" y1="279.34" x2="195.39" y2="307.45" stroke="#1c1c1c" stroke-width="0.85"/>
<text x="172.33" y="289.60" font-size="3.4" font-weight="bold" fill="#000" stroke="none" text-anchor="middle" transform="rotate(42 172.33 289.60)">100</text>
<text x="190.40" y="306.90" font-size="3.4" font-weight="bold" fill="#000" stroke="none" text-anchor="middle" transform="rotate(42 190.40 306.90)">85</text>
<line x1="148.99" y1="301.75" x2="148.00" y2="320.73" stroke="#1c1c1c" stroke-width="0.85"/>
<line x1="121.23" y1="285.07" x2="100.23" y2="297.69" stroke="#1c1c1c" stroke-width="0.85"/>
<text x="106.65" y="290.77" font-size="3.4" font-weight="bold" fill="#000" stroke="none" text-anchor="middle" transform="rotate(-30 106.65 290.77)">99</text>
<line x1="139.72" y1="253.12" x2="127.40" y2="237.36" stroke="#1c1c1c" stroke-width="0.85"/>
<text x="138.75" y="250.10" font-size="3.4" font-weight="bold" fill="#000" stroke="none" text-anchor="middle" transform="rotate(50 138.75 250.10)">71</text>
<line x1="140.41" y1="261.30" x2="127.42" y2="253.80" stroke="#1c1c1c" stroke-width="0.85"/>
<line x1="121.95" y1="242.57" x2="90.25" y2="215.40" stroke="#1c1c1c" stroke-width="0.85"/>
<line x1="120.44" y1="244.45" x2="93.40" y2="224.10" stroke="#1c1c1c" stroke-width="0.85"/>
<line x1="118.84" y1="246.75" x2="95.90" y2="232.00" stroke="#1c1c1c" stroke-width="0.85"/>
<line x1="123.77" y1="240.59" x2="86.25" y2="203.50" stroke="#8c8c8c" stroke-width="0.85"/>
<line x1="126.94" y1="237.72" x2="103.90" y2="209.16" stroke="#1c1c1c" stroke-width="0.85"/>
<path d="M101.69 211.02A74.69794539384313 74.69794539384313 0 0 1 106.18 207.39" fill="none" stroke="#1c1c1c" stroke-width="0.85"/>
<line x1="101.69" y1="211.02" x2="98.40" y2="207.25" stroke="#1c1c1c" stroke-width="0.85"/>
<line x1="106.18" y1="207.39" x2="103.10" y2="203.25" stroke="#1c1c1c" stroke-width="0.85"/>
<text x="105.91" y="212.65" font-size="3.4" font-weight="bold" fill="#000" stroke="none" text-anchor="middle" transform="rotate(51 105.91 212.65)">96</text>
<line x1="131.05" y1="234.83" x2="107.40" y2="195.95" stroke="#1c1c1c" stroke-width="0.85"/>
<path d="M104.91 197.52A83.51401019047779 83.51401019047779 0 0 1 109.95 194.46" fill="none" stroke="#1c1c1c" stroke-width="0.85"/>
<line x1="104.91" y1="197.52" x2="102.10" y2="193.25" stroke="#1c1c1c" stroke-width="0.85"/>
<line x1="109.95" y1="194.46" x2="107.50" y2="190.10" stroke="#1c1c1c" stroke-width="0.85"/>
<text x="109.06" y="199.68" font-size="3.4" font-weight="bold" fill="#000" stroke="none" text-anchor="middle" transform="rotate(59 109.06 199.68)">88</text>
<line x1="137.20" y1="231.82" x2="124.89" y2="199.70" stroke="#1c1c1c" stroke-width="0.85"/>
<path d="M120.03 201.78A72.39129473009224 72.39129473009224 0 0 1 129.93 197.98" fill="none" stroke="#1c1c1c" stroke-width="0.85"/>
<line x1="120.03" y1="201.78" x2="117.90" y2="197.25" stroke="#1c1c1c" stroke-width="0.85"/>
<line x1="124.84" y1="199.72" x2="122.10" y2="192.60" stroke="#1c1c1c" stroke-width="0.85"/>
<line x1="129.93" y1="197.98" x2="128.40" y2="192.90" stroke="#1c1c1c" stroke-width="0.85"/>
<text x="126.04" y="203.69" font-size="3.4" font-weight="bold" fill="#000" stroke="none" text-anchor="middle" transform="rotate(69 126.04 203.69)">100</text>
<line x1="144.63" y1="229.80" x2="140.80" y2="206.50" stroke="#1c1c1c" stroke-width="0.85"/>
<path d="M137.40 207.16A61.61688080388362 61.61688080388362 0 0 1 149.94 205.69" fill="none" stroke="#1c1c1c" stroke-width="0.85"/>
<line x1="137.40" y1="207.16" x2="135.60" y2="199.10" stroke="#1c1c1c" stroke-width="0.85"/>
<line x1="141.47" y1="206.39" x2="140.00" y2="196.80" stroke="#1c1c1c" stroke-width="0.85"/>
<line x1="145.65" y1="205.90" x2="144.75" y2="195.10" stroke="#1c1c1c" stroke-width="0.85"/>
<line x1="149.94" y1="205.69" x2="149.75" y2="192.50" stroke="#1c1c1c" stroke-width="0.85"/>
<text x="141.32" y="210.66" font-size="3.4" font-weight="bold" fill="#000" stroke="none" text-anchor="middle" transform="rotate(81 141.32 210.66)">94</text>
<line x1="126.37" y1="255.80" x2="104.50" y2="245.50" stroke="#1c1c1c" stroke-width="0.85"/>
<path d="M102.79 249.58A51.17548241101398 51.17548241101398 0 0 1 105.83 242.88" fill="none" stroke="#1c1c1c" stroke-width="0.85"/>
<line x1="105.83" y1="242.88" x2="99.60" y2="239.50" stroke="#1c1c1c" stroke-width="0.85"/>
<line x1="104.22" y1="246.11" x2="91.00" y2="240.10" stroke="#1c1c1c" stroke-width="0.85"/>
<line x1="102.79" y1="249.58" x2="88.75" y2="244.40" stroke="#1c1c1c" stroke-width="0.85"/>
<text x="107.40" y="247.86" font-size="3.4" font-weight="bold" fill="#000" stroke="none" text-anchor="middle" transform="rotate(25 107.40 247.86)">73</text>
<line x1="124.79" y1="260.04" x2="106.00" y2="254.80" stroke="#1c1c1c" stroke-width="0.85"/>
<path d="M105.31 257.62A46.511181451345664 46.511181451345664 0 0 1 106.26 253.90" fill="none" stroke="#1c1c1c" stroke-width="0.85"/>
<line x1="105.31" y1="257.62" x2="99.10" y2="256.30" stroke="#1c1c1c" stroke-width="0.85"/>
<line x1="106.26" y1="253.90" x2="97.60" y2="251.30" stroke="#1c1c1c" stroke-width="0.85"/>
<text x="109.08" y="256.66" font-size="3.4" font-weight="bold" fill="#000" stroke="none" text-anchor="middle" transform="rotate(16 109.08 256.66)">100</text>
<line x1="104.50" y1="245.50" x2="127.60" y2="253.00" stroke="#1c1c1c" stroke-width="0.85"/>
<line x1="106.00" y1="254.80" x2="126.50" y2="257.00" stroke="#1c1c1c" stroke-width="0.85"/>
<line x1="111.00" y1="256.00" x2="133.00" y2="262.00" stroke="#1c1c1c" stroke-width="0.85"/>
<line x1="138.91" y1="265.64" x2="129.48" y2="264.33" stroke="#1c1c1c" stroke-width="0.85"/>
<path d="M129.35 265.47A21.52432465940705 21.52432465940705 0 0 1 129.69 263.09" fill="none" stroke="#1c1c1c" stroke-width="0.85"/>
<line x1="129.69" y1="263.09" x2="126.75" y2="262.50" stroke="#1c1c1c" stroke-width="0.85"/>
<line x1="129.35" y1="265.47" x2="123.90" y2="265.00" stroke="#1c1c1c" stroke-width="0.85"/>
<line x1="155.01" y1="192.42" x2="155.90" y2="176.60" stroke="#1c1c1c" stroke-width="0.85"/>
<line x1="160.06" y1="192.87" x2="162.50" y2="173.25" stroke="#1c1c1c" stroke-width="0.85"/>
<line x1="165.10" y1="193.68" x2="169.10" y2="173.10" stroke="#1c1c1c" stroke-width="0.85"/>
<line x1="170.79" y1="195.01" x2="179.75" y2="162.60" stroke="#1c1c1c" stroke-width="0.85"/>
<line x1="178.26" y1="197.51" x2="185.83" y2="178.28" stroke="#1c1c1c" stroke-width="0.85"/>
<path d="M183.24 177.30A95.66609409329439 95.66609409329439 0 0 1 188.43 179.35" fill="none" stroke="#1c1c1c" stroke-width="0.85"/>
<line x1="183.24" y1="177.30" x2="185.60" y2="170.75" stroke="#1c1c1c" stroke-width="0.85"/>
<line x1="188.43" y1="179.35" x2="190.40" y2="174.75" stroke="#1c1c1c" stroke-width="0.85"/>
<text x="184.65" y="182.25" font-size="3.4" font-weight="bold" fill="#000" stroke="none" text-anchor="middle" transform="rotate(-69 184.65 182.25)">86</text>
<line x1="185.51" y1="213.53" x2="196.50" y2="196.50" stroke="#1c1c1c" stroke-width="0.85"/>
<path d="M189.78 192.59A84.26820278135757 84.26820278135757 0 0 1 204.32 202.21" fill="none" stroke="#1c1c1c" stroke-width="0.85"/>
<line x1="189.78" y1="192.59" x2="192.90" y2="186.60" stroke="#1c1c1c" stroke-width="0.85"/>
<line x1="194.86" y1="195.47" x2="199.50" y2="187.90" stroke="#1c1c1c" stroke-width="0.85"/>
<line x1="199.97" y1="198.86" x2="205.90" y2="190.60" stroke="#1c1c1c" stroke-width="0.85"/>
<line x1="204.32" y1="202.21" x2="209.10" y2="196.40" stroke="#1c1c1c" stroke-width="0.85"/>
<text x="194.76" y="200.19" font-size="3.4" font-weight="bold" fill="#000" stroke="none" text-anchor="middle" transform="rotate(-57 194.76 200.19)">98</text>
<line x1="195.16" y1="221.17" x2="209.75" y2="206.00" stroke="#8c8c8c" stroke-width="0.85"/>
<line x1="200.49" y1="226.96" x2="217.20" y2="213.40" stroke="#1c1c1c" stroke-width="0.85"/>
<path d="M214.13 209.82A85.52292090428155 85.52292090428155 0 0 1 225.05 224.86" fill="none" stroke="#1c1c1c" stroke-width="0.85"/>
<line x1="214.13" y1="209.82" x2="219.00" y2="205.40" stroke="#1c1c1c" stroke-width="0.85"/>
<line x1="217.83" y1="214.18" x2="223.10" y2="210.00" stroke="#1c1c1c" stroke-width="0.85"/>
<line x1="221.67" y1="219.42" x2="229.10" y2="214.40" stroke="#1c1c1c" stroke-width="0.85"/>
<line x1="225.05" y1="224.86" x2="234.00" y2="219.75" stroke="#1c1c1c" stroke-width="0.85"/>
<text x="214.72" y="216.42" font-size="3.4" font-weight="bold" fill="#000" stroke="none" text-anchor="middle" transform="rotate(-39 214.72 216.42)">100</text>
<path d="M228.12 229.04A86.27085255171644 86.27085255171644 0 0 1 234.51 246.43" fill="none" stroke="#1c1c1c" stroke-width="0.85"/>
<line x1="228.12" y1="229.04" x2="233.75" y2="226.25" stroke="#1c1c1c" stroke-width="0.85"/>
<line x1="230.36" y1="233.94" x2="234.40" y2="232.25" stroke="#1c1c1c" stroke-width="0.85"/>
<line x1="232.70" y1="240.19" x2="239.00" y2="238.10" stroke="#1c1c1c" stroke-width="0.85"/>
<line x1="234.51" y1="246.43" x2="242.25" y2="244.50" stroke="#1c1c1c" stroke-width="0.85"/>
<text x="225.43" y="231.81" font-size="3.4" font-weight="bold" fill="#000" stroke="none" text-anchor="middle" transform="rotate(-26 225.43 231.81)">85</text>
<line x1="221.50" y1="219.50" x2="228.30" y2="229.40" stroke="#1c1c1c" stroke-width="0.85"/>
<line x1="184.77" y1="261.28" x2="237.10" y2="252.00" stroke="#1c1c1c" stroke-width="0.85"/>
<line x1="185.09" y1="263.52" x2="220.60" y2="259.60" stroke="#1c1c1c" stroke-width="0.85"/>
<line x1="185.30" y1="267.33" x2="254.00" y2="267.40" stroke="#1c1c1c" stroke-width="0.85"/>
<path d="M253.95 264.05A103.20004844960101 103.20004844960101 0 0 1 253.92 271.38" fill="none" stroke="#1c1c1c" stroke-width="0.85"/>
<line x1="253.95" y1="264.05" x2="258.75" y2="263.90" stroke="#1c1c1c" stroke-width="0.85"/>
<line x1="253.92" y1="271.38" x2="259.60" y2="271.60" stroke="#1c1c1c" stroke-width="0.85"/>
<text x="250.80" y="268.40" font-size="3.4" font-weight="bold" fill="#000" stroke="none" text-anchor="middle" transform="rotate(0 250.80 268.40)">99</text>
<line x1="184.74" y1="273.51" x2="206.50" y2="277.50" stroke="#1c1c1c" stroke-width="0.85"/>
<path d="M207.12 273.19A56.62623067095318 56.62623067095318 0 0 1 205.63 281.45" fill="none" stroke="#1c1c1c" stroke-width="0.85"/>
<line x1="207.12" y1="273.19" x2="212.50" y2="273.75" stroke="#1c1c1c" stroke-width="0.85"/>
<line x1="206.62" y1="276.83" x2="212.90" y2="277.90" stroke="#1c1c1c" stroke-width="0.85"/>
<line x1="205.63" y1="281.45" x2="211.25" y2="282.90" stroke="#1c1c1c" stroke-width="0.85"/>
<text x="203.35" y="277.92" font-size="3.4" font-weight="bold" fill="#000" stroke="none" text-anchor="middle" transform="rotate(10 203.35 277.92)">71</text>
<line x1="206.90" y1="288.58" x2="210.41" y2="289.91" stroke="#1c1c1c" stroke-width="0.85"/>
<path d="M211.26 287.55A63.75574881611318 63.75574881611318 0 0 1 209.49 292.20" fill="none" stroke="#1c1c1c" stroke-width="0.85"/>
<line x1="211.26" y1="287.55" x2="214.10" y2="288.50" stroke="#1c1c1c" stroke-width="0.85"/>
<line x1="209.49" y1="292.20" x2="213.50" y2="293.90" stroke="#1c1c1c" stroke-width="0.85"/>
<text x="207.42" y="289.78" font-size="3.4" font-weight="bold" fill="#000" stroke="none" text-anchor="middle" transform="rotate(21 207.42 289.78)">96</text>
<line x1="202.44" y1="297.84" x2="213.88" y2="304.61" stroke="#1c1c1c" stroke-width="0.85"/>
<path d="M216.36 300.05A73.28363192717029 73.28363192717029 0 0 1 211.03 309.04" fill="none" stroke="#1c1c1c" stroke-width="0.85"/>
<line x1="216.36" y1="300.05" x2="220.25" y2="302.00" stroke="#1c1c1c" stroke-width="0.85"/>
<line x1="213.87" y1="304.61" x2="216.90" y2="306.40" stroke="#1c1c1c" stroke-width="0.85"/>
<line x1="211.03" y1="309.04" x2="213.50" y2="310.75" stroke="#1c1c1c" stroke-width="0.85"/>
<text x="211.12" y="303.98" font-size="3.4" font-weight="bold" fill="#000" stroke="none" text-anchor="middle" transform="rotate(31 211.12 303.98)">88</text>
<line x1="196.06" y1="306.69" x2="204.57" y2="314.10" stroke="#1c1c1c" stroke-width="0.85"/>
<path d="M206.26 312.09A71.28512637129991 71.28512637129991 0 0 1 202.81 316.05" fill="none" stroke="#1c1c1c" stroke-width="0.85"/>
<line x1="206.26" y1="312.09" x2="208.75" y2="314.10" stroke="#1c1c1c" stroke-width="0.85"/>
<line x1="202.81" y1="316.05" x2="205.00" y2="318.10" stroke="#1c1c1c" stroke-width="0.85"/>
<text x="202.16" y="313.00" font-size="3.4" font-weight="bold" fill="#000" stroke="none" text-anchor="middle" transform="rotate(41 202.16 313.00)">100</text>
<line x1="190.67" y1="312.14" x2="198.60" y2="321.07" stroke="#1c1c1c" stroke-width="0.85"/>
<path d="M200.21 319.60A71.94639751182173 71.94639751182173 0 0 1 196.83 322.59" fill="none" stroke="#1c1c1c" stroke-width="0.85"/>
<line x1="196.83" y1="322.59" x2="198.75" y2="324.90" stroke="#1c1c1c" stroke-width="0.85"/>
<line x1="200.21" y1="319.60" x2="206.25" y2="326.00" stroke="#1c1c1c" stroke-width="0.85"/>
<text x="196.48" y="319.68" font-size="3.4" font-weight="bold" fill="#000" stroke="none" text-anchor="middle" transform="rotate(48 196.48 319.68)">94</text>
<line x1="182.00" y1="318.55" x2="184.90" y2="323.32" stroke="#1c1c1c" stroke-width="0.85"/>
<path d="M188.44 321.00A65.57674532959403 65.57674532959403 0 0 1 181.50 325.25" fill="none" stroke="#1c1c1c" stroke-width="0.85"/>
<line x1="188.44" y1="321.00" x2="190.90" y2="324.50" stroke="#1c1c1c" stroke-width="0.85"/>
<line x1="184.57" y1="323.52" x2="188.10" y2="329.40" stroke="#1c1c1c" stroke-width="0.85"/>
<line x1="181.50" y1="325.25" x2="182.90" y2="327.90" stroke="#1c1c1c" stroke-width="0.85"/>
<text x="183.23" y="321.58" font-size="3.4" font-weight="bold" fill="#000" stroke="none" text-anchor="middle" transform="rotate(59 183.23 321.58)">73</text>
<line x1="171.76" y1="316.52" x2="177.50" y2="330.00" stroke="#1c1c1c" stroke-width="0.85"/>
<line x1="168.40" y1="317.82" x2="172.90" y2="330.75" stroke="#1c1c1c" stroke-width="0.85"/>
<line x1="164.87" y1="318.92" x2="168.10" y2="330.75" stroke="#1c1c1c" stroke-width="0.85"/>
<line x1="160.58" y1="319.90" x2="162.75" y2="331.60" stroke="#1c1c1c" stroke-width="0.85"/>
<line x1="157.26" y1="320.41" x2="159.70" y2="340.50" stroke="#1c1c1c" stroke-width="0.85"/>
<line x1="145.96" y1="320.58" x2="145.37" y2="327.18" stroke="#1c1c1c" stroke-width="0.85"/>
<path d="M153.54 327.36A60.122577926967345 60.122577926967345 0 0 1 137.16 325.85" fill="none" stroke="#1c1c1c" stroke-width="0.85"/>
<line x1="153.54" y1="327.36" x2="153.75" y2="331.90" stroke="#1c1c1c" stroke-width="0.85"/>
<line x1="149.51" y1="327.41" x2="149.40" y2="332.60" stroke="#1c1c1c" stroke-width="0.85"/>
<line x1="145.57" y1="327.19" x2="145.00" y2="333.75" stroke="#1c1c1c" stroke-width="0.85"/>
<line x1="141.21" y1="326.65" x2="140.10" y2="333.50" stroke="#1c1c1c" stroke-width="0.85"/>
<line x1="137.16" y1="325.85" x2="136.25" y2="329.75" stroke="#1c1c1c" stroke-width="0.85"/>
<text x="145.65" y="324.99" font-size="3.4" font-weight="bold" fill="#000" stroke="none" text-anchor="middle" transform="rotate(275 145.65 324.99)">100</text>
<line x1="133.20" y1="317.82" x2="130.72" y2="324.95" stroke="#1c1c1c" stroke-width="0.85"/>
<path d="M132.79 325.63A61.05193205516911 61.05193205516911 0 0 1 128.68 324.21" fill="none" stroke="#1c1c1c" stroke-width="0.85"/>
<line x1="132.79" y1="325.63" x2="131.90" y2="328.50" stroke="#1c1c1c" stroke-width="0.85"/>
<line x1="128.68" y1="324.21" x2="127.50" y2="327.25" stroke="#1c1c1c" stroke-width="0.85"/>
<text x="131.77" y="322.93" font-size="3.4" font-weight="bold" fill="#000" stroke="none" text-anchor="middle" transform="rotate(289 131.77 322.93)">86</text>
<line x1="126.12" y1="314.77" x2="120.39" y2="325.79" stroke="#1c1c1c" stroke-width="0.85"/>
<path d="M122.20 326.70A65.92329069334977 65.92329069334977 0 0 1 118.62 324.83" fill="none" stroke="#1c1c1c" stroke-width="0.85"/>
<line x1="122.20" y1="326.70" x2="120.90" y2="329.40" stroke="#1c1c1c" stroke-width="0.85"/>
<line x1="118.62" y1="324.83" x2="116.90" y2="327.90" stroke="#1c1c1c" stroke-width="0.85"/>
<text x="121.86" y="323.95" font-size="3.4" font-weight="bold" fill="#000" stroke="none" text-anchor="middle" transform="rotate(297 121.86 323.95)">98</text>
<line x1="118.23" y1="309.75" x2="110.58" y2="319.72" stroke="#1c1c1c" stroke-width="0.85"/>
<path d="M114.34 322.40A66.06844431431766 66.06844431431766 0 0 1 107.13 316.88" fill="none" stroke="#1c1c1c" stroke-width="0.85"/>
<line x1="114.34" y1="322.40" x2="110.90" y2="327.60" stroke="#1c1c1c" stroke-width="0.85"/>
<line x1="110.34" y1="319.53" x2="108.50" y2="321.90" stroke="#1c1c1c" stroke-width="0.85"/>
<line x1="107.13" y1="316.88" x2="104.60" y2="319.75" stroke="#1c1c1c" stroke-width="0.85"/>
<text x="112.53" y="318.18" font-size="3.4" font-weight="bold" fill="#000" stroke="none" text-anchor="middle" transform="rotate(307 112.53 318.18)">100</text>
<line x1="108.51" y1="308.44" x2="95.60" y2="321.00" stroke="#8c8c8c" stroke-width="0.85"/>
<line x1="103.23" y1="302.21" x2="97.66" y2="306.29" stroke="#1c1c1c" stroke-width="0.85"/>
<path d="M100.41 309.79A65.91125638372678 65.91125638372678 0 0 1 95.25 302.78" fill="none" stroke="#1c1c1c" stroke-width="0.85"/>
<line x1="100.41" y1="309.79" x2="98.50" y2="311.40" stroke="#1c1c1c" stroke-width="0.85"/>
<line x1="97.66" y1="306.30" x2="95.00" y2="308.25" stroke="#1c1c1c" stroke-width="0.85"/>
<line x1="95.25" y1="302.78" x2="90.60" y2="305.75" stroke="#1c1c1c" stroke-width="0.85"/>
<text x="100.24" y="305.40" font-size="3.4" font-weight="bold" fill="#000" stroke="none" text-anchor="middle" transform="rotate(324 100.24 305.40)">85</text>
<line x1="97.14" y1="291.83" x2="90.00" y2="295.09" stroke="#1c1c1c" stroke-width="0.85"/>
<path d="M92.03 299.16A66.8478910998741 66.8478910998741 0 0 1 88.34 291.11" fill="none" stroke="#1c1c1c" stroke-width="0.85"/>
<line x1="92.03" y1="299.16" x2="89.75" y2="300.40" stroke="#1c1c1c" stroke-width="0.85"/>
<line x1="89.91" y1="294.89" x2="86.90" y2="296.25" stroke="#1c1c1c" stroke-width="0.85"/>
<line x1="88.34" y1="291.11" x2="86.00" y2="292.00" stroke="#1c1c1c" stroke-width="0.85"/>
<text x="92.91" y="294.76" font-size="3.4" font-weight="bold" fill="#000" stroke="none" text-anchor="middle" transform="rotate(335 92.91 294.76)">99</text>
<line x1="92.71" y1="277.61" x2="89.19" y2="278.23" stroke="#1c1c1c" stroke-width="0.85"/>
<path d="M90.80 285.04A62.57044259877138 62.57044259877138 0 0 1 88.37 271.54" fill="none" stroke="#1c1c1c" stroke-width="0.85"/>
<line x1="90.80" y1="285.04" x2="88.40" y2="285.75" stroke="#1c1c1c" stroke-width="0.85"/>
<line x1="89.54" y1="280.05" x2="86.90" y2="280.60" stroke="#1c1c1c" stroke-width="0.85"/>
<line x1="88.94" y1="276.68" x2="82.90" y2="277.60" stroke="#1c1c1c" stroke-width="0.85"/>
<line x1="88.37" y1="271.54" x2="81.60" y2="272.00" stroke="#1c1c1c" stroke-width="0.85"/>
<text x="92.34" y="278.68" font-size="3.4" font-weight="bold" fill="#000" stroke="none" text-anchor="middle" transform="rotate(350 92.34 278.68)">71</text>
<circle cx="102.10" cy="193.25" r="2.25" fill="#1111e4"/>
<circle cx="107.50" cy="190.10" r="2.25" fill="#1111e4"/>
<circle cx="117.90" cy="197.25" r="2.25" fill="#e5131d"/>
<circle cx="122.10" cy="192.60" r="2.25" fill="#176f1e"/>
<circle cx="128.40" cy="192.90" r="2.25" fill="#1111e4"/>
<circle cx="135.60" cy="199.10" r="2.25" fill="#1111e4"/>
<circle cx="140.00" cy="196.80" r="2.25" fill="#1111e4"/>
<circle cx="144.75" cy="195.10" r="2.25" fill="#1111e4"/>
<circle cx="149.75" cy="192.50" r="2.25" fill="#1111e4"/>
<circle cx="155.90" cy="176.60" r="2.25" fill="#1111e4"/>
<circle cx="162.50" cy="173.25" r="2.25" fill="#1111e4"/>
<circle cx="169.10" cy="173.10" r="2.25" fill="#e5131d"/>
<circle cx="179.75" cy="162.60" r="2.25" fill="#e5131d"/>
<circle cx="185.60" cy="170.75" r="2.25" fill="#e5131d"/>
<circle cx="190.40" cy="174.75" r="2.25" fill="#e5131d"/>
<circle cx="192.90" cy="186.60" r="2.25" fill="#1111e4"/>
<circle cx="199.50" cy="187.90" r="2.25" fill="#1111e4"/>
<circle cx="205.90" cy="190.60" r="2.25" fill="#1111e4"/>
<circle cx="209.10" cy="196.40" r="2.25" fill="#1111e4"/>
<circle cx="209.75" cy="206.00" r="2.25" fill="#1111e4"/>
<circle cx="219.00" cy="205.40" r="2.25" fill="#176f1e"/>
<circle cx="223.10" cy="210.00" r="2.25" fill="#e5131d"/>
<circle cx="229.10" cy="214.40" r="2.25" fill="#e5131d"/>
<circle cx="234.00" cy="219.75" r="2.25" fill="#e5131d"/>
<circle cx="233.75" cy="226.25" r="2.25" fill="#176f1e"/>
<circle cx="234.40" cy="232.25" r="2.25" fill="#176f1e"/>
<circle cx="239.00" cy="238.10" r="2.25" fill="#176f1e"/>
<circle cx="242.25" cy="244.50" r="2.25" fill="#176f1e"/>
<circle cx="237.10" cy="252.00" r="2.25" fill="#e5131d"/>
<circle cx="220.60" cy="259.60" r="2.25" fill="#176f1e"/>
<circle cx="258.75" cy="263.90" r="2.25" fill="#1111e4"/>
<circle cx="259.60" cy="271.60" r="2.25" fill="#1111e4"/>
<circle cx="212.50" cy="273.75" r="2.25" fill="#176f1e"/>
<circle cx="212.90" cy="277.90" r="2.25" fill="#176f1e"/>
<circle cx="211.25" cy="282.90" r="2.25" fill="#176f1e"/>
<circle cx="214.10" cy="288.50" r="2.25" fill="#e5131d"/>
<circle cx="213.50" cy="293.90" r="2.25" fill="#e5131d"/>
<circle cx="220.25" cy="302.00" r="2.25" fill="#e5131d"/>
<circle cx="216.90" cy="306.40" r="2.25" fill="#176f1e"/>
<circle cx="213.50" cy="310.75" r="2.25" fill="#e5131d"/>
<circle cx="208.75" cy="314.10" r="2.25" fill="#176f1e"/>
<circle cx="205.00" cy="318.10" r="2.25" fill="#176f1e"/>
<circle cx="198.75" cy="324.90" r="2.25" fill="#176f1e"/>
<circle cx="206.25" cy="326.00" r="2.25" fill="#e5131d"/>
<circle cx="190.90" cy="324.50" r="2.25" fill="#e5131d"/>
<circle cx="188.10" cy="329.40" r="2.25" fill="#e5131d"/>
<circle cx="182.90" cy="327.90" r="2.25" fill="#e5131d"/>
<circle cx="177.50" cy="330.00" r="2.25" fill="#176f1e"/>
<circle cx="172.90" cy="330.75" r="2.25" fill="#176f1e"/>
<circle cx="168.10" cy="330.75" r="2.25" fill="#e5131d"/>
<circle cx="162.75" cy="331.60" r="2.25" fill="#e5131d"/>
<circle cx="159.70" cy="340.50" r="2.25" fill="#e5131d"/>
<circle cx="153.75" cy="331.90" r="2.25" fill="#1111e4"/>
<circle cx="149.40" cy="332.60" r="2.25" fill="#1111e4"/>
<circle cx="145.00" cy="333.75" r="2.25" fill="#1111e4"/>
<circle cx="140.10" cy="333.50" r="2.25" fill="#1111e4"/>
<circle cx="136.25" cy="329.75" r="2.25" fill="#1111e4"/>
<circle cx="131.90" cy="328.50" r="2.25" fill="#e5131d"/>
<circle cx="127.50" cy="327.25" r="2.25" fill="#e5131d"/>
<circle cx="120.90" cy="329.40" r="2.25" fill="#1111e4"/>
<circle cx="116.90" cy="327.90" r="2.25" fill="#1111e4"/>
<circle cx="110.90" cy="327.60" r="2.25" fill="#176f1e"/>
<circle cx="108.50" cy="321.90" r="2.25" fill="#176f1e"/>
<circle cx="104.60" cy="319.75" r="2.25" fill="#176f1e"/>
<circle cx="95.60" cy="321.00" r="2.25" fill="#e5131d"/>
<circle cx="98.50" cy="311.40" r="2.25" fill="#176f1e"/>
<circle cx="95.00" cy="308.25" r="2.25" fill="#176f1e"/>
<circle cx="90.60" cy="305.75" r="2.25" fill="#176f1e"/>
<circle cx="89.75" cy="300.40" r="2.25" fill="#1111e4"/>
<circle cx="86.90" cy="296.25" r="2.25" fill="#176f1e"/>
<circle cx="86.00" cy="292.00" r="2.25" fill="#176f1e"/>
<circle cx="88.40" cy="285.75" r="2.25" fill="#176f1e"/>
<circle cx="86.90" cy="280.60" r="2.25" fill="#176f1e"/>
<circle cx="82.90" cy="277.60" r="2.25" fill="#176f1e"/>
<circle cx="81.60" cy="272.00" r="2.25" fill="#e5131d"/>
<circle cx="126.75" cy="262.50" r="2.25" fill="#1111e4"/>
<circle cx="123.90" cy="265.00" r="2.25" fill="#1111e4"/>
<circle cx="99.10" cy="256.30" r="2.25" fill="#1111e4"/>
<circle cx="97.60" cy="251.30" r="2.25" fill="#1111e4"/>
<circle cx="88.75" cy="244.40" r="2.25" fill="#1111e4"/>
<circle cx="91.00" cy="240.10" r="2.25" fill="#1111e4"/>
<circle cx="99.60" cy="239.50" r="2.25" fill="#176f1e"/>
<circle cx="95.90" cy="232.00" r="2.25" fill="#e5131d"/>
<circle cx="93.40" cy="224.10" r="2.25" fill="#e5131d"/>
<circle cx="90.25" cy="215.40" r="2.25" fill="#e5131d"/>
<circle cx="86.25" cy="203.50" r="2.25" fill="#e5131d"/>
<circle cx="98.40" cy="207.25" r="2.25" fill="#176f1e"/>
<circle cx="103.10" cy="203.25" r="2.25" fill="#176f1e"/>
<text x="300.20" y="266.30" font-size="4.8" text-anchor="end" font-weight="bold" font-style="normal" fill="#111" stroke="none">HXB2</text>
<line x1="301.20" y1="264.60" x2="385.00" y2="264.60" stroke="#2e2e2e" stroke-width="0.75"/>
<line x1="307.40" y1="266.20" x2="310.00" y2="263.00" stroke="#111" stroke-width="1.1"/>
<line x1="309.00" y1="266.20" x2="311.60" y2="263.00" stroke="#111" stroke-width="1.1"/>
<line x1="385.00" y1="264.30" x2="400.00" y2="258.20" stroke="#1c1c1c" stroke-width="0.85"/>
<line x1="399.63" y1="257.83" x2="432.50" y2="243.30" stroke="#1c1c1c" stroke-width="0.85"/>
<path d="M431.14 240.45A51.93505559831432 51.93505559831432 0 0 1 434.46 248.45" fill="none" stroke="#1c1c1c" stroke-width="0.85"/>
<line x1="431.14" y1="240.45" x2="435.40" y2="238.25" stroke="#1c1c1c" stroke-width="0.85"/>
<line x1="433.09" y1="244.70" x2="437.50" y2="242.90" stroke="#1c1c1c" stroke-width="0.85"/>
<line x1="434.46" y1="248.45" x2="442.10" y2="246.00" stroke="#1c1c1c" stroke-width="0.85"/>
<text x="429.57" y="245.59" font-size="3.4" font-weight="bold" fill="#000" stroke="none" text-anchor="middle" transform="rotate(-24 429.57 245.59)">96</text>
<line x1="400.76" y1="261.57" x2="464.00" y2="250.60" stroke="#1c1c1c" stroke-width="0.85"/>
<path d="M463.47 247.84A80.17911199308708 80.17911199308708 0 0 1 464.38 253.03" fill="none" stroke="#1c1c1c" stroke-width="0.85"/>
<line x1="463.47" y1="247.84" x2="467.50" y2="247.00" stroke="#1c1c1c" stroke-width="0.85"/>
<line x1="464.38" y1="253.03" x2="468.10" y2="252.50" stroke="#1c1c1c" stroke-width="0.85"/>
<text x="460.85" y="252.15" font-size="3.4" font-weight="bold" fill="#000" stroke="none" text-anchor="middle" transform="rotate(-10 460.85 252.15)">88</text>
<line x1="401.00" y1="264.41" x2="457.80" y2="264.80" stroke="#1c1c1c" stroke-width="0.85"/>
<path d="M457.76 261.75A72.80171701271888 72.80171701271888 0 0 1 457.72 267.67" fill="none" stroke="#1c1c1c" stroke-width="0.85"/>
<line x1="457.76" y1="261.75" x2="462.10" y2="261.60" stroke="#1c1c1c" stroke-width="0.85"/>
<line x1="457.72" y1="267.67" x2="462.75" y2="267.90" stroke="#1c1c1c" stroke-width="0.85"/>
<text x="454.60" y="265.78" font-size="3.4" font-weight="bold" fill="#000" stroke="none" text-anchor="middle" transform="rotate(0 454.60 265.78)">100</text>
<line x1="400.59" y1="267.88" x2="443.80" y2="277.80" stroke="#1c1c1c" stroke-width="0.85"/>
<path d="M444.72 272.85A60.32984336130835 60.32984336130835 0 0 1 440.40 288.19" fill="none" stroke="#1c1c1c" stroke-width="0.85"/>
<line x1="444.72" y1="272.85" x2="451.00" y2="273.75" stroke="#1c1c1c" stroke-width="0.85"/>
<line x1="443.65" y1="278.46" x2="449.00" y2="279.75" stroke="#1c1c1c" stroke-width="0.85"/>
<line x1="442.18" y1="283.53" x2="447.75" y2="285.40" stroke="#1c1c1c" stroke-width="0.85"/>
<line x1="440.40" y1="288.19" x2="449.00" y2="291.90" stroke="#1c1c1c" stroke-width="0.85"/>
<text x="440.68" y="278.08" font-size="3.4" font-weight="bold" fill="#000" stroke="none" text-anchor="middle" transform="rotate(13 440.68 278.08)">94</text>
<line x1="398.64" y1="272.66" x2="424.50" y2="288.50" stroke="#1c1c1c" stroke-width="0.85"/>
<path d="M425.67 286.47A46.32375200693484 46.32375200693484 0 0 1 421.32 293.06" fill="none" stroke="#1c1c1c" stroke-width="0.85"/>
<line x1="425.67" y1="286.47" x2="437.10" y2="292.70" stroke="#1c1c1c" stroke-width="0.85"/>
<line x1="423.86" y1="289.52" x2="435.00" y2="296.75" stroke="#1c1c1c" stroke-width="0.85"/>
<line x1="421.32" y1="293.06" x2="429.70" y2="299.70" stroke="#1c1c1c" stroke-width="0.85"/>
<text x="421.77" y="287.83" font-size="3.4" font-weight="bold" fill="#000" stroke="none" text-anchor="middle" transform="rotate(31 421.77 287.83)">73</text>
<line x1="396.29" y1="275.64" x2="433.50" y2="313.00" stroke="#8c8c8c" stroke-width="0.85"/>
<path d="M435.69 310.72A68.73092462640088 68.73092462640088 0 0 1 431.52 314.90" fill="none" stroke="#8c8c8c" stroke-width="0.85"/>
<line x1="435.69" y1="310.72" x2="448.00" y2="322.00" stroke="#8c8c8c" stroke-width="0.85"/>
<line x1="431.52" y1="314.90" x2="443.10" y2="327.50" stroke="#8c8c8c" stroke-width="0.85"/>
<text x="431.24" y="311.73" font-size="3.4" font-weight="bold" fill="#000" stroke="none" text-anchor="middle" transform="rotate(45 431.24 311.73)">100</text>
<line x1="394.21" y1="277.38" x2="429.50" y2="327.50" stroke="#1c1c1c" stroke-width="0.85"/>
<path d="M432.96 324.91A77.29482518254375 77.29482518254375 0 0 1 421.86 332.24" fill="none" stroke="#1c1c1c" stroke-width="0.85"/>
<line x1="432.96" y1="324.91" x2="443.40" y2="338.10" stroke="#1c1c1c" stroke-width="0.85"/>
<line x1="426.93" y1="329.23" x2="434.60" y2="341.10" stroke="#1c1c1c" stroke-width="0.85"/>
<line x1="421.86" y1="332.24" x2="428.10" y2="343.75" stroke="#1c1c1c" stroke-width="0.85"/>
<text x="427.66" y="325.88" font-size="3.4" font-weight="bold" fill="#000" stroke="none" text-anchor="middle" transform="rotate(55 427.66 325.88)">86</text>
<line x1="390.45" y1="279.34" x2="409.00" y2="330.50" stroke="#1c1c1c" stroke-width="0.85"/>
<path d="M413.44 328.72A70.4161913198946 70.4161913198946 0 0 1 396.55 333.76" fill="none" stroke="#1c1c1c" stroke-width="0.85"/>
<line x1="413.44" y1="328.72" x2="417.80" y2="338.60" stroke="#1c1c1c" stroke-width="0.85"/>
<line x1="408.18" y1="330.79" x2="412.00" y2="341.75" stroke="#1c1c1c" stroke-width="0.85"/>
<line x1="403.12" y1="332.34" x2="405.75" y2="342.20" stroke="#1c1c1c" stroke-width="0.85"/>
<line x1="396.55" y1="333.76" x2="398.10" y2="343.10" stroke="#1c1c1c" stroke-width="0.85"/>
<text x="407.91" y="328.49" font-size="3.4" font-weight="bold" fill="#000" stroke="none" text-anchor="middle" transform="rotate(70 407.91 328.49)">98</text>
<line x1="385.91" y1="280.27" x2="389.50" y2="343.50" stroke="#1c1c1c" stroke-width="0.85"/>
<path d="M392.96 343.23A79.3277378979131 79.3277378979131 0 0 1 386.34 343.62" fill="none" stroke="#1c1c1c" stroke-width="0.85"/>
<line x1="392.96" y1="343.23" x2="394.40" y2="357.50" stroke="#1c1c1c" stroke-width="0.85"/>
<line x1="386.34" y1="343.62" x2="386.50" y2="352.80" stroke="#1c1c1c" stroke-width="0.85"/>
<text x="389.32" y="341.31" font-size="3.4" font-weight="bold" fill="#000" stroke="none" text-anchor="middle" transform="rotate(87 389.32 341.31)">100</text>
<line x1="383.35" y1="280.21" x2="377.50" y2="336.50" stroke="#1c1c1c" stroke-width="0.85"/>
<path d="M380.81 336.77A72.58849771141429 72.58849771141429 0 0 1 375.15 336.22" fill="none" stroke="#1c1c1c" stroke-width="0.85"/>
<line x1="380.81" y1="336.77" x2="380.50" y2="342.20" stroke="#1c1c1c" stroke-width="0.85"/>
<line x1="375.15" y1="336.22" x2="374.40" y2="341.70" stroke="#1c1c1c" stroke-width="0.85"/>
<text x="377.83" y="334.32" font-size="3.4" font-weight="bold" fill="#000" stroke="none" text-anchor="middle" transform="rotate(276 377.83 334.32)">85</text>
<line x1="369.22" y1="266.97" x2="336.50" y2="272.50" stroke="#1c1c1c" stroke-width="0.85"/>
<path d="M336.62 273.16A49.1883116197334 49.1883116197334 0 0 1 336.05 269.14" fill="none" stroke="#1c1c1c" stroke-width="0.85"/>
<line x1="336.05" y1="269.14" x2="321.25" y2="270.60" stroke="#1c1c1c" stroke-width="0.85"/>
<line x1="336.62" y1="273.16" x2="322.20" y2="275.80" stroke="#1c1c1c" stroke-width="0.85"/>
<text x="339.66" y="272.97" font-size="3.4" font-weight="bold" fill="#000" stroke="none" text-anchor="middle" transform="rotate(350 339.66 272.97)">99</text>
<line x1="370.12" y1="270.18" x2="322.50" y2="289.00" stroke="#1c1c1c" stroke-width="0.85"/>
<path d="M324.31 293.16A67.20372013512346 67.20372013512346 0 0 1 320.48 283.09" fill="none" stroke="#1c1c1c" stroke-width="0.85"/>
<line x1="324.31" y1="293.16" x2="318.75" y2="295.80" stroke="#1c1c1c" stroke-width="0.85"/>
<line x1="321.99" y1="287.66" x2="318.10" y2="289.10" stroke="#1c1c1c" stroke-width="0.85"/>
<line x1="320.48" y1="283.09" x2="317.00" y2="284.10" stroke="#1c1c1c" stroke-width="0.85"/>
<text x="325.48" y="288.82" font-size="3.4" font-weight="bold" fill="#000" stroke="none" text-anchor="middle" transform="rotate(338 325.48 288.82)">71</text>
<line x1="373.26" y1="275.17" x2="347.00" y2="299.50" stroke="#8c8c8c" stroke-width="0.85"/>
<path d="M348.30 300.86A51.798069462094816 51.798069462094816 0 0 1 340.44 290.71" fill="none" stroke="#8c8c8c" stroke-width="0.85"/>
<line x1="346.06" y1="298.45" x2="341.90" y2="302.10" stroke="#8c8c8c" stroke-width="0.85"/>
<line x1="342.65" y1="294.13" x2="334.75" y2="299.70" stroke="#8c8c8c" stroke-width="0.85"/>
<line x1="340.44" y1="290.71" x2="331.00" y2="296.30" stroke="#8c8c8c" stroke-width="0.85"/>
<line x1="348.30" y1="300.86" x2="333.50" y2="315.60" stroke="#8c8c8c" stroke-width="0.85"/>
<text x="349.35" y="298.33" font-size="3.4" font-weight="bold" fill="#000" stroke="none" text-anchor="middle" transform="rotate(317 349.35 298.33)">96</text>
<line x1="377.94" y1="249.94" x2="349.10" y2="191.25" stroke="#1c1c1c" stroke-width="0.85"/>
<line x1="376.61" y1="250.68" x2="343.10" y2="196.25" stroke="#1c1c1c" stroke-width="0.85"/>
<line x1="379.05" y1="249.45" x2="361.25" y2="205.00" stroke="#1c1c1c" stroke-width="0.85"/>
<line x1="380.26" y1="249.02" x2="366.90" y2="206.00" stroke="#1c1c1c" stroke-width="0.85"/>
<line x1="381.46" y1="248.70" x2="372.40" y2="208.75" stroke="#1c1c1c" stroke-width="0.85"/>
<line x1="382.55" y1="248.49" x2="375.40" y2="202.25" stroke="#1c1c1c" stroke-width="0.85"/>
<line x1="383.98" y1="248.33" x2="381.00" y2="201.60" stroke="#1c1c1c" stroke-width="0.85"/>
<line x1="385.25" y1="248.30" x2="386.00" y2="200.40" stroke="#1c1c1c" stroke-width="0.85"/>
<line x1="386.67" y1="248.39" x2="391.90" y2="198.50" stroke="#1c1c1c" stroke-width="0.85"/>
<line x1="387.84" y1="248.55" x2="396.90" y2="198.25" stroke="#1c1c1c" stroke-width="0.85"/>
<line x1="389.08" y1="248.83" x2="406.90" y2="181.25" stroke="#1c1c1c" stroke-width="0.85"/>
<line x1="390.35" y1="249.22" x2="411.00" y2="191.00" stroke="#1c1c1c" stroke-width="0.85"/>
<line x1="391.49" y1="249.68" x2="418.10" y2="189.75" stroke="#1c1c1c" stroke-width="0.85"/>
<line x1="392.67" y1="250.26" x2="428.60" y2="184.50" stroke="#1c1c1c" stroke-width="0.85"/>
<line x1="393.81" y1="250.94" x2="432.50" y2="192.25" stroke="#1c1c1c" stroke-width="0.85"/>
<line x1="394.96" y1="251.78" x2="434.90" y2="201.60" stroke="#8c8c8c" stroke-width="0.85"/>
<line x1="395.90" y1="252.59" x2="436.00" y2="209.50" stroke="#8c8c8c" stroke-width="0.85"/>
<line x1="396.83" y1="253.53" x2="441.25" y2="213.10" stroke="#8c8c8c" stroke-width="0.85"/>
<line x1="397.80" y1="254.70" x2="441.50" y2="221.90" stroke="#8c8c8c" stroke-width="0.85"/>
<line x1="398.49" y1="255.69" x2="445.00" y2="226.00" stroke="#1c1c1c" stroke-width="0.85"/>
<polyline points="369.80,259.30 361.30,256.50" fill="none" stroke="#1c1c1c" stroke-width="0.85"/>
<polyline points="361.80,251.50 360.80,261.50" fill="none" stroke="#1c1c1c" stroke-width="0.85"/>
<text x="363.50" y="253.50" font-size="3.4" font-weight="bold" fill="#000" stroke="none" text-anchor="middle" transform="rotate(20 363.50 253.50)">88</text>
<line x1="360.80" y1="261.50" x2="335.00" y2="259.50" stroke="#1c1c1c" stroke-width="0.85"/>
<line x1="361.80" y1="251.50" x2="345.30" y2="241.80" stroke="#1c1c1c" stroke-width="0.85"/>
<text x="349.50" y="242.20" font-size="3.4" font-weight="bold" fill="#000" stroke="none" text-anchor="middle" transform="rotate(30 349.50 242.20)">100</text>
<polyline points="347.50,238.00 342.50,249.50" fill="none" stroke="#1c1c1c" stroke-width="0.85"/>
<polyline points="347.50,238.00 355.20,226.80 350.20,216.50" fill="none" stroke="#8c8c8c" stroke-width="0.85"/>
<line x1="350.20" y1="216.50" x2="347.10" y2="212.60" stroke="#8c8c8c" stroke-width="0.85"/>
<polyline points="351.20,218.60 345.00,217.25" fill="none" stroke="#8c8c8c" stroke-width="0.85"/>
<text x="352.80" y="219.50" font-size="3.4" font-weight="bold" fill="#000" stroke="none" text-anchor="middle" transform="rotate(50 352.80 219.50)">94</text>
<polyline points="352.50,231.00 344.50,224.50" fill="none" stroke="#8c8c8c" stroke-width="0.85"/>
<line x1="344.50" y1="224.50" x2="341.25" y2="222.60" stroke="#8c8c8c" stroke-width="0.85"/>
<line x1="344.50" y1="224.50" x2="338.75" y2="226.25" stroke="#8c8c8c" stroke-width="0.85"/>
<text x="346.00" y="229.00" font-size="3.4" font-weight="bold" fill="#000" stroke="none" text-anchor="middle" transform="rotate(40 346.00 229.00)">73</text>
<polyline points="346.50,240.00 331.20,232.30" fill="none" stroke="#1c1c1c" stroke-width="0.85"/>
<polyline points="332.00,227.20 330.20,237.60" fill="none" stroke="#1c1c1c" stroke-width="0.85"/>
<line x1="332.00" y1="227.20" x2="328.50" y2="225.90" stroke="#1c1c1c" stroke-width="0.85"/>
<line x1="331.20" y1="232.30" x2="327.10" y2="231.60" stroke="#1c1c1c" stroke-width="0.85"/>
<line x1="330.20" y1="237.60" x2="325.30" y2="236.60" stroke="#1c1c1c" stroke-width="0.85"/>
<text x="335.00" y="231.80" font-size="3.4" font-weight="bold" fill="#000" stroke="none" text-anchor="middle" transform="rotate(28 335.00 231.80)">100</text>
<polyline points="342.50,249.50 340.00,255.80 323.75,253.70" fill="none" stroke="#1c1c1c" stroke-width="0.85"/>
<polyline points="342.50,249.50 322.50,244.20" fill="none" stroke="#1c1c1c" stroke-width="0.85"/>
<polyline points="322.80,241.30 322.00,247.40" fill="none" stroke="#1c1c1c" stroke-width="0.85"/>
<line x1="322.80" y1="241.30" x2="319.40" y2="241.10" stroke="#1c1c1c" stroke-width="0.85"/>
<line x1="322.00" y1="247.40" x2="318.75" y2="247.40" stroke="#1c1c1c" stroke-width="0.85"/>
<text x="327.50" y="244.00" font-size="3.4" font-weight="bold" fill="#000" stroke="none" text-anchor="middle" transform="rotate(12 327.50 244.00)">86</text>
<polyline points="378.86,279.07 355.60,335.00" fill="none" stroke="#1c1c1c" stroke-width="0.85"/>
<polyline points="337.60,348.60 346.30,330.60 363.80,338.70 363.20,353.50" fill="none" stroke="#1c1c1c" stroke-width="0.85"/>
<polyline points="363.20,353.50 350.50,352.60" fill="none" stroke="#1c1c1c" stroke-width="0.85"/>
<line x1="350.50" y1="352.60" x2="348.75" y2="355.40" stroke="#1c1c1c" stroke-width="0.85"/>
<line x1="357.00" y1="353.00" x2="356.00" y2="358.50" stroke="#1c1c1c" stroke-width="0.85"/>
<line x1="363.20" y1="353.50" x2="363.40" y2="360.00" stroke="#1c1c1c" stroke-width="0.85"/>
<text x="361.00" y="351.50" font-size="3.4" font-weight="bold" fill="#000" stroke="none" text-anchor="middle" transform="rotate(-65 361.00 351.50)">98</text>
<polyline points="337.60,348.60 341.20,353.00 339.60,357.25" fill="none" stroke="#1c1c1c" stroke-width="0.85"/>
<text x="339.50" y="346.50" font-size="3.4" font-weight="bold" fill="#000" stroke="none" text-anchor="middle" transform="rotate(-65 339.50 346.50)">100</text>
<polyline points="337.60,348.60 330.30,344.20 326.70,348.20" fill="none" stroke="#4a6a3a" stroke-width="0.85"/>
<text x="326.50" y="344.50" font-size="3.4" font-weight="bold" fill="#000" stroke="none" text-anchor="middle" transform="rotate(-60 326.50 344.50)">85</text>
<line x1="326.70" y1="348.20" x2="318.50" y2="343.20" stroke="#4a6a3a" stroke-width="0.85"/>
<line x1="318.50" y1="343.20" x2="316.00" y2="345.75" stroke="#4a6a3a" stroke-width="0.85"/>
<line x1="326.70" y1="348.20" x2="323.30" y2="351.25" stroke="#1c1c1c" stroke-width="0.85"/>
<polyline points="326.70,348.20 330.50,352.20 329.40,355.90" fill="none" stroke="#4a6a3a" stroke-width="0.85"/>
<circle cx="385.0" cy="264.3" r="16.0" fill="none" stroke="#1c1c1c" stroke-width="0.8"/>
<text x="386.00" y="260.80" font-size="3.4" font-weight="bold" fill="#000" stroke="none" text-anchor="middle" transform="rotate(90 386.00 260.80)">99</text>
<circle cx="349.10" cy="191.25" r="2.25" fill="#e5131d"/>
<circle cx="343.10" cy="196.25" r="2.25" fill="#1111e4"/>
<circle cx="361.25" cy="205.00" r="2.25" fill="#176f1e"/>
<circle cx="366.90" cy="206.00" r="2.25" fill="#1111e4"/>
<circle cx="372.40" cy="208.75" r="2.25" fill="#e5131d"/>
<circle cx="375.40" cy="202.25" r="2.25" fill="#e5131d"/>
<circle cx="381.00" cy="201.60" r="2.25" fill="#e5131d"/>
<circle cx="386.00" cy="200.40" r="2.25" fill="#176f1e"/>
<circle cx="391.90" cy="198.50" r="2.25" fill="#176f1e"/>
<circle cx="396.90" cy="198.25" r="2.25" fill="#e5131d"/>
<circle cx="406.90" cy="181.25" r="2.25" fill="#e5131d"/>
<circle cx="411.00" cy="191.00" r="2.25" fill="#1111e4"/>
<circle cx="418.10" cy="189.75" r="2.25" fill="#176f1e"/>
<circle cx="428.60" cy="184.50" r="2.25" fill="#176f1e"/>
<circle cx="432.50" cy="192.25" r="2.25" fill="#176f1e"/>
<circle cx="434.90" cy="201.60" r="2.25" fill="#e5131d"/>
<circle cx="436.00" cy="209.50" r="2.25" fill="#176f1e"/>
<circle cx="441.25" cy="213.10" r="2.25" fill="#176f1e"/>
<circle cx="441.50" cy="221.90" r="2.25" fill="#e5131d"/>
<circle cx="445.00" cy="226.00" r="2.25" fill="#176f1e"/>
<circle cx="435.40" cy="238.25" r="2.25" fill="#e5131d"/>
<circle cx="437.50" cy="242.90" r="2.25" fill="#e5131d"/>
<circle cx="442.10" cy="246.00" r="2.25" fill="#e5131d"/>
<circle cx="467.50" cy="247.00" r="2.25" fill="#1111e4"/>
<circle cx="468.10" cy="252.50" r="2.25" fill="#1111e4"/>
<circle cx="462.10" cy="261.60" r="2.25" fill="#e5131d"/>
<circle cx="462.75" cy="267.90" r="2.25" fill="#e5131d"/>
<circle cx="451.00" cy="273.75" r="2.25" fill="#1111e4"/>
<circle cx="449.00" cy="279.75" r="2.25" fill="#1111e4"/>
<circle cx="447.75" cy="285.40" r="2.25" fill="#1111e4"/>
<circle cx="449.00" cy="291.90" r="2.25" fill="#1111e4"/>
<circle cx="437.10" cy="292.70" r="2.25" fill="#1111e4"/>
<circle cx="435.00" cy="296.75" r="2.25" fill="#1111e4"/>
<circle cx="429.70" cy="299.70" r="2.25" fill="#1111e4"/>
<circle cx="448.00" cy="322.00" r="2.25" fill="#e5131d"/>
<circle cx="443.10" cy="327.50" r="2.25" fill="#e5131d"/>
<circle cx="443.40" cy="338.10" r="2.25" fill="#1111e4"/>
<circle cx="434.60" cy="341.10" r="2.25" fill="#176f1e"/>
<circle cx="428.10" cy="343.75" r="2.25" fill="#1111e4"/>
<circle cx="417.80" cy="338.60" r="2.25" fill="#e5131d"/>
<circle cx="412.00" cy="341.75" r="2.25" fill="#176f1e"/>
<circle cx="405.75" cy="342.20" r="2.25" fill="#e5131d"/>
<circle cx="398.10" cy="343.10" r="2.25" fill="#176f1e"/>
<circle cx="394.40" cy="357.50" r="2.25" fill="#176f1e"/>
<circle cx="386.50" cy="352.80" r="2.25" fill="#176f1e"/>
<circle cx="380.50" cy="342.20" r="2.25" fill="#e5131d"/>
<circle cx="374.40" cy="341.70" r="2.25" fill="#e5131d"/>
<circle cx="363.40" cy="360.00" r="2.25" fill="#1111e4"/>
<circle cx="356.00" cy="358.50" r="2.25" fill="#1111e4"/>
<circle cx="348.75" cy="355.40" r="2.25" fill="#1111e4"/>
<circle cx="339.60" cy="357.25" r="2.25" fill="#176f1e"/>
<circle cx="329.40" cy="355.90" r="2.25" fill="#176f1e"/>
<circle cx="323.30" cy="351.25" r="2.25" fill="#176f1e"/>
<circle cx="316.00" cy="345.75" r="2.25" fill="#176f1e"/>
<circle cx="333.50" cy="315.60" r="2.25" fill="#176f1e"/>
<circle cx="341.90" cy="302.10" r="2.25" fill="#176f1e"/>
<circle cx="334.75" cy="299.70" r="2.25" fill="#176f1e"/>
<circle cx="331.00" cy="296.30" r="2.25" fill="#176f1e"/>
<circle cx="318.75" cy="295.80" r="2.25" fill="#1111e4"/>
<circle cx="318.10" cy="289.10" r="2.25" fill="#1111e4"/>
<circle cx="317.00" cy="284.10" r="2.25" fill="#1111e4"/>
<circle cx="322.20" cy="275.80" r="2.25" fill="#e5131d"/>
<circle cx="321.25" cy="270.60" r="2.25" fill="#e5131d"/>
<circle cx="335.00" cy="259.50" r="2.25" fill="#1111e4"/>
<circle cx="323.75" cy="253.70" r="2.25" fill="#176f1e"/>
<circle cx="318.75" cy="247.40" r="2.25" fill="#e5131d"/>
<circle cx="319.40" cy="241.10" r="2.25" fill="#e5131d"/>
<circle cx="325.30" cy="236.60" r="2.25" fill="#1111e4"/>
<circle cx="327.10" cy="231.60" r="2.25" fill="#1111e4"/>
<circle cx="328.50" cy="225.90" r="2.25" fill="#1111e4"/>
<circle cx="338.75" cy="226.25" r="2.25" fill="#e5131d"/>
<circle cx="341.25" cy="222.60" r="2.25" fill="#e5131d"/>
<circle cx="345.00" cy="217.25" r="2.25" fill="#1111e4"/>
<circle cx="347.10" cy="212.60" r="2.25" fill="#1111e4"/>
</g>
<g id="legend">
<circle cx="480" cy="85.6" r="3.1" fill="#e5131d"/>
<text x="490.00" y="88.60" font-size="10" text-anchor="start" font-weight="normal" font-style="normal" >day 0</text>
<circle cx="480" cy="104.0" r="3.1" fill="#1111e4"/>
<text x="490.00" y="107.00" font-size="10" text-anchor="start" font-weight="normal" font-style="normal" >day 4</text>
<circle cx="480" cy="122.5" r="3.1" fill="#176f1e"/>
<text x="490.00" y="125.50" font-size="10" text-anchor="start" font-weight="normal" font-style="normal" >day 28</text>
<line x1="466.90" y1="155.40" x2="493.80" y2="155.40" stroke="#222" stroke-width="0.7"/>
<text x="480.30" y="162.20" font-size="5.4" text-anchor="middle" font-weight="bold" font-style="normal" >0.02</text>
<text x="-0.30" y="12.70" font-size="12.8" text-anchor="start" font-weight="bold" font-style="normal" >A</text>
<text x="14.00" y="11.80" font-size="10.15" text-anchor="start" font-weight="normal" font-style="normal" class="ti">Subject #91390</text>
<text x="240.60" y="11.80" font-size="10.15" text-anchor="start" font-weight="normal" font-style="normal" class="ti">Subject #251343</text>
<text x="14.00" y="168.20" font-size="10.15" text-anchor="start" font-weight="normal" font-style="normal" class="ti">Subject #251657</text>
<text x="252.30" y="168.40" font-size="10.15" text-anchor="start" font-weight="normal" font-style="normal" class="ti">Subject #381546</text>
<text x="0.10" y="384.20" font-size="12.0" text-anchor="start" font-weight="bold" font-style="normal" >B</text>
</g>
<g id="plots">
<line x1="69.70" y1="387.60" x2="69.70" y2="497.12" stroke="#1c1c1c" stroke-width="1.05"/>
<line x1="69.17" y1="496.60" x2="224.60" y2="496.60" stroke="#1c1c1c" stroke-width="1.05"/>
<line x1="66.40" y1="388.60" x2="69.70" y2="388.60" stroke="#1c1c1c" stroke-width="1.05"/>
<text x="65.10" y="391.80" font-size="9.3" text-anchor="end" font-weight="normal" font-style="normal" >15</text>
<line x1="66.40" y1="424.40" x2="69.70" y2="424.40" stroke="#1c1c1c" stroke-width="1.05"/>
<text x="65.10" y="427.60" font-size="9.3" text-anchor="end" font-weight="normal" font-style="normal" >10</text>
<line x1="66.40" y1="460.50" x2="69.70" y2="460.50" stroke="#1c1c1c" stroke-width="1.05"/>
<text x="65.10" y="463.70" font-size="9.3" text-anchor="end" font-weight="normal" font-style="normal" >5</text>
<line x1="66.40" y1="496.60" x2="69.70" y2="496.60" stroke="#1c1c1c" stroke-width="1.05"/>
<text x="65.10" y="499.80" font-size="9.3" text-anchor="end" font-weight="normal" font-style="normal" >0</text>
<line x1="95.50" y1="496.60" x2="95.50" y2="499.20" stroke="#1c1c1c" stroke-width="1.05"/>
<line x1="147.20" y1="496.60" x2="147.20" y2="499.20" stroke="#1c1c1c" stroke-width="1.05"/>
<line x1="198.90" y1="496.60" x2="198.90" y2="499.20" stroke="#1c1c1c" stroke-width="1.05"/>
<text x="100.20" y="509.90" font-size="9.85" text-anchor="middle" font-weight="normal" font-style="normal" >day 0</text>
<text x="151.40" y="509.90" font-size="9.85" text-anchor="middle" font-weight="normal" font-style="normal" >day 4</text>
<text x="204.60" y="509.90" font-size="9.85" text-anchor="middle" font-weight="normal" font-style="normal" >day 28</text>
<text font-size="10.2" text-anchor="middle" transform="translate(38.90 440.3) rotate(-90)">Subject #91390</text>
<text font-size="10.2" text-anchor="middle" transform="translate(51.20 440.3) rotate(-90)">Genetic diversity (%)</text>
<line x1="96.00" y1="387.60" x2="200.00" y2="387.60" stroke="#222" stroke-width="1.4"/>
<text x="145.75" y="383.00" font-size="9.55" text-anchor="middle" font-weight="normal" font-style="italic" class="pv">p=NS</text>
<line x1="96.00" y1="407.00" x2="147.80" y2="407.00" stroke="#222" stroke-width="1.4"/>
<text x="121.60" y="401.90" font-size="9.55" text-anchor="middle" font-weight="normal" font-style="italic" class="pv">p=NS</text>
<line x1="78.50" y1="476.30" x2="111.90" y2="476.30" stroke="#222" stroke-width="1.0"/>
<line x1="130.00" y1="477.50" x2="164.00" y2="477.50" stroke="#222" stroke-width="1.0"/>
<line x1="182.50" y1="475.60" x2="215.00" y2="475.60" stroke="#222" stroke-width="1.0"/>
<circle cx="89.40" cy="469.75" r="1.95" fill="#566ade" stroke="#090d3a" stroke-width="1.05"/>
<circle cx="95.40" cy="471.00" r="1.95" fill="#566ade" stroke="#090d3a" stroke-width="1.05"/>
<circle cx="102.25" cy="473.10" r="1.95" fill="#566ade" stroke="#090d3a" stroke-width="1.05"/>
<circle cx="81.60" cy="475.90" r="1.95" fill="#566ade" stroke="#090d3a" stroke-width="1.05"/>
<circle cx="87.90" cy="476.60" r="1.95" fill="#566ade" stroke="#090d3a" stroke-width="1.05"/>
<circle cx="95.00" cy="476.90" r="1.95" fill="#566ade" stroke="#090d3a" stroke-width="1.05"/>
<circle cx="103.10" cy="477.10" r="1.95" fill="#566ade" stroke="#090d3a" stroke-width="1.05"/>
<circle cx="109.75" cy="476.25" r="1.95" fill="#566ade" stroke="#090d3a" stroke-width="1.05"/>
<circle cx="83.40" cy="479.40" r="1.95" fill="#566ade" stroke="#090d3a" stroke-width="1.05"/>
<circle cx="89.40" cy="479.75" r="1.95" fill="#566ade" stroke="#090d3a" stroke-width="1.05"/>
<circle cx="95.40" cy="480.25" r="1.95" fill="#566ade" stroke="#090d3a" stroke-width="1.05"/>
<circle cx="101.60" cy="480.00" r="1.95" fill="#566ade" stroke="#090d3a" stroke-width="1.05"/>
<circle cx="107.50" cy="479.40" r="1.95" fill="#566ade" stroke="#090d3a" stroke-width="1.05"/>
<circle cx="91.90" cy="478.10" r="1.95" fill="#566ade" stroke="#090d3a" stroke-width="1.05"/>
<circle cx="98.75" cy="478.50" r="1.95" fill="#566ade" stroke="#090d3a" stroke-width="1.05"/>
<circle cx="85.00" cy="477.50" r="1.95" fill="#566ade" stroke="#090d3a" stroke-width="1.05"/>
<circle cx="105.60" cy="478.10" r="1.95" fill="#566ade" stroke="#090d3a" stroke-width="1.05"/>
<circle cx="147.50" cy="467.75" r="1.95" fill="#566ade" stroke="#090d3a" stroke-width="1.05"/>
<circle cx="141.25" cy="470.00" r="1.95" fill="#566ade" stroke="#090d3a" stroke-width="1.05"/>
<circle cx="134.75" cy="472.25" r="1.95" fill="#566ade" stroke="#090d3a" stroke-width="1.05"/>
<circle cx="160.00" cy="471.25" r="1.95" fill="#566ade" stroke="#090d3a" stroke-width="1.05"/>
<circle cx="153.50" cy="473.10" r="1.95" fill="#566ade" stroke="#090d3a" stroke-width="1.05"/>
<circle cx="141.25" cy="474.40" r="1.95" fill="#566ade" stroke="#090d3a" stroke-width="1.05"/>
<circle cx="147.50" cy="475.00" r="1.95" fill="#566ade" stroke="#090d3a" stroke-width="1.05"/>
<circle cx="139.40" cy="478.10" r="1.95" fill="#566ade" stroke="#090d3a" stroke-width="1.05"/>
<circle cx="145.60" cy="478.75" r="1.95" fill="#566ade" stroke="#090d3a" stroke-width="1.05"/>
<circle cx="151.90" cy="478.10" r="1.95" fill="#566ade" stroke="#090d3a" stroke-width="1.05"/>
<circle cx="155.40" cy="478.10" r="1.95" fill="#566ade" stroke="#090d3a" stroke-width="1.05"/>
<circle cx="134.40" cy="482.25" r="1.95" fill="#566ade" stroke="#090d3a" stroke-width="1.05"/>
<circle cx="137.50" cy="482.25" r="1.95" fill="#566ade" stroke="#090d3a" stroke-width="1.05"/>
<circle cx="140.60" cy="482.75" r="1.95" fill="#566ade" stroke="#090d3a" stroke-width="1.05"/>
<circle cx="143.75" cy="481.90" r="1.95" fill="#566ade" stroke="#090d3a" stroke-width="1.05"/>
<circle cx="147.25" cy="482.75" r="1.95" fill="#566ade" stroke="#090d3a" stroke-width="1.05"/>
<circle cx="150.00" cy="481.90" r="1.95" fill="#566ade" stroke="#090d3a" stroke-width="1.05"/>
<circle cx="153.50" cy="482.75" r="1.95" fill="#566ade" stroke="#090d3a" stroke-width="1.05"/>
<circle cx="156.60" cy="482.25" r="1.95" fill="#566ade" stroke="#090d3a" stroke-width="1.05"/>
<circle cx="160.00" cy="482.25" r="1.95" fill="#566ade" stroke="#090d3a" stroke-width="1.05"/>
<circle cx="186.50" cy="467.75" r="1.95" fill="#566ade" stroke="#090d3a" stroke-width="1.05"/>
<circle cx="192.90" cy="469.75" r="1.95" fill="#566ade" stroke="#090d3a" stroke-width="1.05"/>
<circle cx="199.10" cy="470.00" r="1.95" fill="#566ade" stroke="#090d3a" stroke-width="1.05"/>
<circle cx="205.60" cy="469.00" r="1.95" fill="#566ade" stroke="#090d3a" stroke-width="1.05"/>
<circle cx="185.00" cy="474.00" r="1.95" fill="#566ade" stroke="#090d3a" stroke-width="1.05"/>
<circle cx="191.60" cy="475.00" r="1.95" fill="#566ade" stroke="#090d3a" stroke-width="1.05"/>
<circle cx="199.10" cy="473.75" r="1.95" fill="#566ade" stroke="#090d3a" stroke-width="1.05"/>
<circle cx="213.10" cy="474.40" r="1.95" fill="#566ade" stroke="#090d3a" stroke-width="1.05"/>
<circle cx="186.25" cy="477.50" r="1.95" fill="#566ade" stroke="#090d3a" stroke-width="1.05"/>
<circle cx="189.40" cy="476.25" r="1.95" fill="#566ade" stroke="#090d3a" stroke-width="1.05"/>
<circle cx="192.75" cy="478.50" r="1.95" fill="#566ade" stroke="#090d3a" stroke-width="1.05"/>
<circle cx="196.25" cy="476.90" r="1.95" fill="#566ade" stroke="#090d3a" stroke-width="1.05"/>
<circle cx="199.10" cy="479.75" r="1.95" fill="#566ade" stroke="#090d3a" stroke-width="1.05"/>
<circle cx="202.25" cy="476.90" r="1.95" fill="#566ade" stroke="#090d3a" stroke-width="1.05"/>
<circle cx="205.25" cy="479.75" r="1.95" fill="#566ade" stroke="#090d3a" stroke-width="1.05"/>
<circle cx="207.50" cy="476.25" r="1.95" fill="#566ade" stroke="#090d3a" stroke-width="1.05"/>
<circle cx="211.25" cy="477.50" r="1.95" fill="#566ade" stroke="#090d3a" stroke-width="1.05"/>
<circle cx="213.10" cy="475.60" r="1.95" fill="#566ade" stroke="#090d3a" stroke-width="1.05"/>
<line x1="304.70" y1="387.60" x2="304.70" y2="497.12" stroke="#1c1c1c" stroke-width="1.05"/>
<line x1="304.18" y1="496.60" x2="459.30" y2="496.60" stroke="#1c1c1c" stroke-width="1.05"/>
<line x1="301.40" y1="388.60" x2="304.70" y2="388.60" stroke="#1c1c1c" stroke-width="1.05"/>
<text x="300.10" y="391.80" font-size="9.3" text-anchor="end" font-weight="normal" font-style="normal" >15</text>
<line x1="301.40" y1="424.40" x2="304.70" y2="424.40" stroke="#1c1c1c" stroke-width="1.05"/>
<text x="300.10" y="427.60" font-size="9.3" text-anchor="end" font-weight="normal" font-style="normal" >10</text>
<line x1="301.40" y1="460.50" x2="304.70" y2="460.50" stroke="#1c1c1c" stroke-width="1.05"/>
<text x="300.10" y="463.70" font-size="9.3" text-anchor="end" font-weight="normal" font-style="normal" >5</text>
<line x1="301.40" y1="496.60" x2="304.70" y2="496.60" stroke="#1c1c1c" stroke-width="1.05"/>
<text x="300.10" y="499.80" font-size="9.3" text-anchor="end" font-weight="normal" font-style="normal" >0</text>
<line x1="330.70" y1="496.60" x2="330.70" y2="499.20" stroke="#1c1c1c" stroke-width="1.05"/>
<line x1="382.50" y1="496.60" x2="382.50" y2="499.20" stroke="#1c1c1c" stroke-width="1.05"/>
<line x1="433.90" y1="496.60" x2="433.90" y2="499.20" stroke="#1c1c1c" stroke-width="1.05"/>
<text x="334.80" y="509.90" font-size="9.85" text-anchor="middle" font-weight="normal" font-style="normal" >day 0</text>
<text x="386.30" y="509.90" font-size="9.85" text-anchor="middle" font-weight="normal" font-style="normal" >day 4</text>
<text x="440.00" y="509.90" font-size="9.85" text-anchor="middle" font-weight="normal" font-style="normal" >day 28</text>
<text font-size="10.2" text-anchor="middle" transform="translate(273.90 440.3) rotate(-90)">Subject #251343</text>
<text font-size="10.2" text-anchor="middle" transform="translate(285.80 440.3) rotate(-90)">Genetic diversity (%)</text>
<line x1="331.50" y1="387.50" x2="435.00" y2="387.50" stroke="#222" stroke-width="1.4"/>
<text x="381.30" y="383.00" font-size="9.55" text-anchor="middle" font-weight="normal" font-style="italic" class="pv">p=NS</text>
<line x1="331.50" y1="406.60" x2="383.20" y2="406.60" stroke="#222" stroke-width="1.4"/>
<text x="359.80" y="402.30" font-size="9.55" text-anchor="middle" font-weight="normal" font-style="italic" class="pv">p&lt;0.01</text>
<line x1="313.10" y1="448.75" x2="347.90" y2="448.75" stroke="#222" stroke-width="1.0"/>
<line x1="365.00" y1="442.75" x2="399.75" y2="442.75" stroke="#222" stroke-width="1.0"/>
<line x1="416.25" y1="447.50" x2="451.25" y2="447.50" stroke="#222" stroke-width="1.0"/>
<circle cx="330.60" cy="416.90" r="1.95" fill="#566ade" stroke="#090d3a" stroke-width="1.05"/>
<circle cx="324.60" cy="421.25" r="1.95" fill="#566ade" stroke="#090d3a" stroke-width="1.05"/>
<circle cx="336.90" cy="421.00" r="1.95" fill="#566ade" stroke="#090d3a" stroke-width="1.05"/>
<circle cx="330.60" cy="425.60" r="1.95" fill="#566ade" stroke="#090d3a" stroke-width="1.05"/>
<circle cx="330.60" cy="447.90" r="1.95" fill="#566ade" stroke="#090d3a" stroke-width="1.05"/>
<circle cx="318.50" cy="451.00" r="1.95" fill="#566ade" stroke="#090d3a" stroke-width="1.05"/>
<circle cx="343.10" cy="450.60" r="1.95" fill="#566ade" stroke="#090d3a" stroke-width="1.05"/>
<circle cx="324.60" cy="454.00" r="1.95" fill="#566ade" stroke="#090d3a" stroke-width="1.05"/>
<circle cx="336.90" cy="452.75" r="1.95" fill="#566ade" stroke="#090d3a" stroke-width="1.05"/>
<circle cx="330.60" cy="455.00" r="1.95" fill="#566ade" stroke="#090d3a" stroke-width="1.05"/>
<circle cx="321.50" cy="456.25" r="1.95" fill="#566ade" stroke="#090d3a" stroke-width="1.05"/>
<circle cx="339.75" cy="456.90" r="1.95" fill="#566ade" stroke="#090d3a" stroke-width="1.05"/>
<circle cx="318.50" cy="458.10" r="1.95" fill="#566ade" stroke="#090d3a" stroke-width="1.05"/>
<circle cx="324.60" cy="459.00" r="1.95" fill="#566ade" stroke="#090d3a" stroke-width="1.05"/>
<circle cx="336.90" cy="459.00" r="1.95" fill="#566ade" stroke="#090d3a" stroke-width="1.05"/>
<circle cx="343.10" cy="458.10" r="1.95" fill="#566ade" stroke="#090d3a" stroke-width="1.05"/>
<circle cx="330.60" cy="461.25" r="1.95" fill="#566ade" stroke="#090d3a" stroke-width="1.05"/>
<circle cx="327.50" cy="456.90" r="1.95" fill="#566ade" stroke="#090d3a" stroke-width="1.05"/>
<circle cx="333.75" cy="457.25" r="1.95" fill="#566ade" stroke="#090d3a" stroke-width="1.05"/>
<circle cx="370.00" cy="419.40" r="1.95" fill="#566ade" stroke="#090d3a" stroke-width="1.05"/>
<circle cx="376.25" cy="423.50" r="1.95" fill="#566ade" stroke="#090d3a" stroke-width="1.05"/>
<circle cx="382.25" cy="425.40" r="1.95" fill="#566ade" stroke="#090d3a" stroke-width="1.05"/>
<circle cx="388.50" cy="423.75" r="1.95" fill="#566ade" stroke="#090d3a" stroke-width="1.05"/>
<circle cx="395.00" cy="423.50" r="1.95" fill="#566ade" stroke="#090d3a" stroke-width="1.05"/>
<circle cx="388.75" cy="444.00" r="1.95" fill="#566ade" stroke="#090d3a" stroke-width="1.05"/>
<circle cx="376.25" cy="446.00" r="1.95" fill="#566ade" stroke="#090d3a" stroke-width="1.05"/>
<circle cx="382.25" cy="446.25" r="1.95" fill="#566ade" stroke="#090d3a" stroke-width="1.05"/>
<circle cx="373.10" cy="448.75" r="1.95" fill="#566ade" stroke="#090d3a" stroke-width="1.05"/>
<circle cx="379.40" cy="449.40" r="1.95" fill="#566ade" stroke="#090d3a" stroke-width="1.05"/>
<circle cx="385.60" cy="449.40" r="1.95" fill="#566ade" stroke="#090d3a" stroke-width="1.05"/>
<circle cx="391.90" cy="449.00" r="1.95" fill="#566ade" stroke="#090d3a" stroke-width="1.05"/>
<circle cx="370.00" cy="451.00" r="1.95" fill="#566ade" stroke="#090d3a" stroke-width="1.05"/>
<circle cx="376.25" cy="450.60" r="1.95" fill="#566ade" stroke="#090d3a" stroke-width="1.05"/>
<circle cx="395.00" cy="452.50" r="1.95" fill="#566ade" stroke="#090d3a" stroke-width="1.05"/>
<circle cx="376.25" cy="453.50" r="1.95" fill="#566ade" stroke="#090d3a" stroke-width="1.05"/>
<circle cx="382.25" cy="453.50" r="1.95" fill="#566ade" stroke="#090d3a" stroke-width="1.05"/>
<circle cx="388.50" cy="453.50" r="1.95" fill="#566ade" stroke="#090d3a" stroke-width="1.05"/>
<circle cx="440.50" cy="414.25" r="1.95" fill="#566ade" stroke="#090d3a" stroke-width="1.05"/>
<circle cx="434.25" cy="418.25" r="1.95" fill="#566ade" stroke="#090d3a" stroke-width="1.05"/>
<circle cx="434.25" cy="425.50" r="1.95" fill="#566ade" stroke="#090d3a" stroke-width="1.05"/>
<circle cx="434.25" cy="443.75" r="1.95" fill="#566ade" stroke="#090d3a" stroke-width="1.05"/>
<circle cx="428.00" cy="447.50" r="1.95" fill="#566ade" stroke="#090d3a" stroke-width="1.05"/>
<circle cx="437.50" cy="447.00" r="1.95" fill="#566ade" stroke="#090d3a" stroke-width="1.05"/>
<circle cx="421.75" cy="452.00" r="1.95" fill="#566ade" stroke="#090d3a" stroke-width="1.05"/>
<circle cx="428.00" cy="453.00" r="1.95" fill="#566ade" stroke="#090d3a" stroke-width="1.05"/>
<circle cx="434.25" cy="453.00" r="1.95" fill="#566ade" stroke="#090d3a" stroke-width="1.05"/>
<circle cx="440.50" cy="453.00" r="1.95" fill="#566ade" stroke="#090d3a" stroke-width="1.05"/>
<circle cx="446.75" cy="451.25" r="1.95" fill="#566ade" stroke="#090d3a" stroke-width="1.05"/>
<circle cx="421.75" cy="456.25" r="1.95" fill="#566ade" stroke="#090d3a" stroke-width="1.05"/>
<circle cx="428.00" cy="457.00" r="1.95" fill="#566ade" stroke="#090d3a" stroke-width="1.05"/>
<circle cx="431.25" cy="455.00" r="1.95" fill="#566ade" stroke="#090d3a" stroke-width="1.05"/>
<circle cx="437.50" cy="456.25" r="1.95" fill="#566ade" stroke="#090d3a" stroke-width="1.05"/>
<circle cx="440.50" cy="458.00" r="1.95" fill="#566ade" stroke="#090d3a" stroke-width="1.05"/>
<circle cx="446.75" cy="456.25" r="1.95" fill="#566ade" stroke="#090d3a" stroke-width="1.05"/>
<circle cx="434.25" cy="461.25" r="1.95" fill="#566ade" stroke="#090d3a" stroke-width="1.05"/>
<line x1="72.50" y1="552.00" x2="72.50" y2="660.52" stroke="#1c1c1c" stroke-width="1.05"/>
<line x1="71.97" y1="660.00" x2="227.00" y2="660.00" stroke="#1c1c1c" stroke-width="1.05"/>
<line x1="69.20" y1="552.50" x2="72.50" y2="552.50" stroke="#1c1c1c" stroke-width="1.05"/>
<text x="67.90" y="555.70" font-size="9.3" text-anchor="end" font-weight="normal" font-style="normal" >15</text>
<line x1="69.20" y1="588.20" x2="72.50" y2="588.20" stroke="#1c1c1c" stroke-width="1.05"/>
<text x="67.90" y="591.40" font-size="9.3" text-anchor="end" font-weight="normal" font-style="normal" >10</text>
<line x1="69.20" y1="624.30" x2="72.50" y2="624.30" stroke="#1c1c1c" stroke-width="1.05"/>
<text x="67.90" y="627.50" font-size="9.3" text-anchor="end" font-weight="normal" font-style="normal" >5</text>
<line x1="69.20" y1="660.00" x2="72.50" y2="660.00" stroke="#1c1c1c" stroke-width="1.05"/>
<text x="67.90" y="663.20" font-size="9.3" text-anchor="end" font-weight="normal" font-style="normal" >0</text>
<line x1="98.40" y1="660.00" x2="98.40" y2="662.60" stroke="#1c1c1c" stroke-width="1.05"/>
<line x1="150.00" y1="660.00" x2="150.00" y2="662.60" stroke="#1c1c1c" stroke-width="1.05"/>
<line x1="201.80" y1="660.00" x2="201.80" y2="662.60" stroke="#1c1c1c" stroke-width="1.05"/>
<text x="102.80" y="673.20" font-size="9.85" text-anchor="middle" font-weight="normal" font-style="normal" >day 0</text>
<text x="154.50" y="673.20" font-size="9.85" text-anchor="middle" font-weight="normal" font-style="normal" >day 4</text>
<text x="207.00" y="673.20" font-size="9.85" text-anchor="middle" font-weight="normal" font-style="normal" >day 28</text>
<text font-size="10.2" text-anchor="middle" transform="translate(40.20 602.3) rotate(-90)">Subject #251657</text>
<text font-size="10.2" text-anchor="middle" transform="translate(52.40 602.3) rotate(-90)">Genetic diversity (%)</text>
<line x1="99.40" y1="545.30" x2="203.00" y2="545.30" stroke="#222" stroke-width="1.4"/>
<text x="149.40" y="540.20" font-size="9.55" text-anchor="middle" font-weight="normal" font-style="italic" class="pv">p=NS</text>
<line x1="99.40" y1="564.10" x2="151.30" y2="564.10" stroke="#222" stroke-width="1.4"/>
<text x="129.80" y="559.90" font-size="9.55" text-anchor="middle" font-weight="normal" font-style="italic" class="pv">p&lt;0.001</text>
<line x1="81.00" y1="608.75" x2="116.00" y2="608.75" stroke="#222" stroke-width="1.0"/>
<line x1="133.10" y1="590.80" x2="167.50" y2="590.80" stroke="#222" stroke-width="1.0"/>
<line x1="184.40" y1="601.30" x2="219.30" y2="601.30" stroke="#222" stroke-width="1.0"/>
<circle cx="98.50" cy="574.60" r="1.95" fill="#566ade" stroke="#090d3a" stroke-width="1.05"/>
<circle cx="105.00" cy="574.60" r="1.95" fill="#566ade" stroke="#090d3a" stroke-width="1.05"/>
<circle cx="98.50" cy="583.10" r="1.95" fill="#566ade" stroke="#090d3a" stroke-width="1.05"/>
<circle cx="86.25" cy="590.00" r="1.95" fill="#566ade" stroke="#090d3a" stroke-width="1.05"/>
<circle cx="92.25" cy="590.40" r="1.95" fill="#566ade" stroke="#090d3a" stroke-width="1.05"/>
<circle cx="101.60" cy="589.75" r="1.95" fill="#566ade" stroke="#090d3a" stroke-width="1.05"/>
<circle cx="105.00" cy="591.25" r="1.95" fill="#566ade" stroke="#090d3a" stroke-width="1.05"/>
<circle cx="111.25" cy="590.40" r="1.95" fill="#566ade" stroke="#090d3a" stroke-width="1.05"/>
<circle cx="98.50" cy="594.40" r="1.95" fill="#566ade" stroke="#090d3a" stroke-width="1.05"/>
<circle cx="86.25" cy="614.40" r="1.95" fill="#566ade" stroke="#090d3a" stroke-width="1.05"/>
<circle cx="92.25" cy="615.00" r="1.95" fill="#566ade" stroke="#090d3a" stroke-width="1.05"/>
<circle cx="98.50" cy="615.25" r="1.95" fill="#566ade" stroke="#090d3a" stroke-width="1.05"/>
<circle cx="105.00" cy="614.40" r="1.95" fill="#566ade" stroke="#090d3a" stroke-width="1.05"/>
<circle cx="111.25" cy="613.50" r="1.95" fill="#566ade" stroke="#090d3a" stroke-width="1.05"/>
<circle cx="84.40" cy="619.40" r="1.95" fill="#566ade" stroke="#090d3a" stroke-width="1.05"/>
<circle cx="89.40" cy="619.75" r="1.95" fill="#566ade" stroke="#090d3a" stroke-width="1.05"/>
<circle cx="95.40" cy="620.00" r="1.95" fill="#566ade" stroke="#090d3a" stroke-width="1.05"/>
<circle cx="101.60" cy="620.00" r="1.95" fill="#566ade" stroke="#090d3a" stroke-width="1.05"/>
<circle cx="107.50" cy="620.00" r="1.95" fill="#566ade" stroke="#090d3a" stroke-width="1.05"/>
<circle cx="112.90" cy="619.00" r="1.95" fill="#566ade" stroke="#090d3a" stroke-width="1.05"/>
<circle cx="86.25" cy="621.50" r="1.95" fill="#566ade" stroke="#090d3a" stroke-width="1.05"/>
<circle cx="92.25" cy="622.10" r="1.95" fill="#566ade" stroke="#090d3a" stroke-width="1.05"/>
<circle cx="98.50" cy="622.10" r="1.95" fill="#566ade" stroke="#090d3a" stroke-width="1.05"/>
<circle cx="105.00" cy="622.10" r="1.95" fill="#566ade" stroke="#090d3a" stroke-width="1.05"/>
<circle cx="110.60" cy="621.50" r="1.95" fill="#566ade" stroke="#090d3a" stroke-width="1.05"/>
<circle cx="144.00" cy="580.00" r="1.95" fill="#566ade" stroke="#090d3a" stroke-width="1.05"/>
<circle cx="150.40" cy="582.50" r="1.95" fill="#566ade" stroke="#090d3a" stroke-width="1.05"/>
<circle cx="156.60" cy="581.50" r="1.95" fill="#566ade" stroke="#090d3a" stroke-width="1.05"/>
<circle cx="162.75" cy="579.40" r="1.95" fill="#566ade" stroke="#090d3a" stroke-width="1.05"/>
<circle cx="137.75" cy="586.90" r="1.95" fill="#566ade" stroke="#090d3a" stroke-width="1.05"/>
<circle cx="144.00" cy="588.10" r="1.95" fill="#566ade" stroke="#090d3a" stroke-width="1.05"/>
<circle cx="153.50" cy="586.90" r="1.95" fill="#566ade" stroke="#090d3a" stroke-width="1.05"/>
<circle cx="162.75" cy="587.75" r="1.95" fill="#566ade" stroke="#090d3a" stroke-width="1.05"/>
<circle cx="150.40" cy="590.00" r="1.95" fill="#566ade" stroke="#090d3a" stroke-width="1.05"/>
<circle cx="156.60" cy="589.75" r="1.95" fill="#566ade" stroke="#090d3a" stroke-width="1.05"/>
<circle cx="136.25" cy="592.75" r="1.95" fill="#566ade" stroke="#090d3a" stroke-width="1.05"/>
<circle cx="140.90" cy="592.75" r="1.95" fill="#566ade" stroke="#090d3a" stroke-width="1.05"/>
<circle cx="145.60" cy="593.10" r="1.95" fill="#566ade" stroke="#090d3a" stroke-width="1.05"/>
<circle cx="148.75" cy="592.25" r="1.95" fill="#566ade" stroke="#090d3a" stroke-width="1.05"/>
<circle cx="155.00" cy="592.75" r="1.95" fill="#566ade" stroke="#090d3a" stroke-width="1.05"/>
<circle cx="159.60" cy="592.75" r="1.95" fill="#566ade" stroke="#090d3a" stroke-width="1.05"/>
<circle cx="164.75" cy="592.75" r="1.95" fill="#566ade" stroke="#090d3a" stroke-width="1.05"/>
<circle cx="137.75" cy="595.60" r="1.95" fill="#566ade" stroke="#090d3a" stroke-width="1.05"/>
<circle cx="144.00" cy="596.50" r="1.95" fill="#566ade" stroke="#090d3a" stroke-width="1.05"/>
<circle cx="150.40" cy="597.25" r="1.95" fill="#566ade" stroke="#090d3a" stroke-width="1.05"/>
<circle cx="156.60" cy="596.50" r="1.95" fill="#566ade" stroke="#090d3a" stroke-width="1.05"/>
<circle cx="162.75" cy="596.00" r="1.95" fill="#566ade" stroke="#090d3a" stroke-width="1.05"/>
<circle cx="147.25" cy="595.00" r="1.95" fill="#566ade" stroke="#090d3a" stroke-width="1.05"/>
<circle cx="153.50" cy="595.25" r="1.95" fill="#566ade" stroke="#090d3a" stroke-width="1.05"/>
<circle cx="202.10" cy="581.25" r="1.95" fill="#566ade" stroke="#090d3a" stroke-width="1.05"/>
<circle cx="195.90" cy="589.00" r="1.95" fill="#566ade" stroke="#090d3a" stroke-width="1.05"/>
<circle cx="202.10" cy="589.75" r="1.95" fill="#566ade" stroke="#090d3a" stroke-width="1.05"/>
<circle cx="208.40" cy="588.10" r="1.95" fill="#566ade" stroke="#090d3a" stroke-width="1.05"/>
<circle cx="211.90" cy="590.00" r="1.95" fill="#566ade" stroke="#090d3a" stroke-width="1.05"/>
<circle cx="189.40" cy="593.50" r="1.95" fill="#566ade" stroke="#090d3a" stroke-width="1.05"/>
<circle cx="199.00" cy="592.75" r="1.95" fill="#566ade" stroke="#090d3a" stroke-width="1.05"/>
<circle cx="205.25" cy="593.10" r="1.95" fill="#566ade" stroke="#090d3a" stroke-width="1.05"/>
<circle cx="214.60" cy="593.75" r="1.95" fill="#566ade" stroke="#090d3a" stroke-width="1.05"/>
<circle cx="195.90" cy="596.00" r="1.95" fill="#566ade" stroke="#090d3a" stroke-width="1.05"/>
<circle cx="202.10" cy="596.50" r="1.95" fill="#566ade" stroke="#090d3a" stroke-width="1.05"/>
<circle cx="208.40" cy="596.25" r="1.95" fill="#566ade" stroke="#090d3a" stroke-width="1.05"/>
<circle cx="189.40" cy="601.90" r="1.95" fill="#566ade" stroke="#090d3a" stroke-width="1.05"/>
<circle cx="205.25" cy="602.50" r="1.95" fill="#566ade" stroke="#090d3a" stroke-width="1.05"/>
<circle cx="195.90" cy="604.75" r="1.95" fill="#566ade" stroke="#090d3a" stroke-width="1.05"/>
<circle cx="214.60" cy="606.25" r="1.95" fill="#566ade" stroke="#090d3a" stroke-width="1.05"/>
<circle cx="189.40" cy="607.25" r="1.95" fill="#566ade" stroke="#090d3a" stroke-width="1.05"/>
<circle cx="195.90" cy="608.10" r="1.95" fill="#566ade" stroke="#090d3a" stroke-width="1.05"/>
<circle cx="202.10" cy="607.50" r="1.95" fill="#566ade" stroke="#090d3a" stroke-width="1.05"/>
<circle cx="208.40" cy="607.25" r="1.95" fill="#566ade" stroke="#090d3a" stroke-width="1.05"/>
<circle cx="211.90" cy="608.10" r="1.95" fill="#566ade" stroke="#090d3a" stroke-width="1.05"/>
<circle cx="189.40" cy="611.00" r="1.95" fill="#566ade" stroke="#090d3a" stroke-width="1.05"/>
<circle cx="199.00" cy="610.00" r="1.95" fill="#566ade" stroke="#090d3a" stroke-width="1.05"/>
<circle cx="205.25" cy="610.60" r="1.95" fill="#566ade" stroke="#090d3a" stroke-width="1.05"/>
<circle cx="214.60" cy="611.25" r="1.95" fill="#566ade" stroke="#090d3a" stroke-width="1.05"/>
<circle cx="195.90" cy="613.10" r="1.95" fill="#566ade" stroke="#090d3a" stroke-width="1.05"/>
<circle cx="202.10" cy="614.40" r="1.95" fill="#566ade" stroke="#090d3a" stroke-width="1.05"/>
<circle cx="208.40" cy="613.10" r="1.95" fill="#566ade" stroke="#090d3a" stroke-width="1.05"/>
<line x1="304.70" y1="552.00" x2="304.70" y2="660.52" stroke="#1c1c1c" stroke-width="1.05"/>
<line x1="304.18" y1="660.00" x2="458.80" y2="660.00" stroke="#1c1c1c" stroke-width="1.05"/>
<line x1="301.40" y1="552.50" x2="304.70" y2="552.50" stroke="#1c1c1c" stroke-width="1.05"/>
<text x="300.10" y="555.70" font-size="9.3" text-anchor="end" font-weight="normal" font-style="normal" >15</text>
<line x1="301.40" y1="588.20" x2="304.70" y2="588.20" stroke="#1c1c1c" stroke-width="1.05"/>
<text x="300.10" y="591.40" font-size="9.3" text-anchor="end" font-weight="normal" font-style="normal" >10</text>
<line x1="301.40" y1="624.30" x2="304.70" y2="624.30" stroke="#1c1c1c" stroke-width="1.05"/>
<text x="300.10" y="627.50" font-size="9.3" text-anchor="end" font-weight="normal" font-style="normal" >5</text>
<line x1="301.40" y1="660.00" x2="304.70" y2="660.00" stroke="#1c1c1c" stroke-width="1.05"/>
<text x="300.10" y="663.20" font-size="9.3" text-anchor="end" font-weight="normal" font-style="normal" >0</text>
<line x1="330.20" y1="660.00" x2="330.20" y2="662.60" stroke="#1c1c1c" stroke-width="1.05"/>
<line x1="382.50" y1="660.00" x2="382.50" y2="662.60" stroke="#1c1c1c" stroke-width="1.05"/>
<line x1="433.80" y1="660.00" x2="433.80" y2="662.60" stroke="#1c1c1c" stroke-width="1.05"/>
<text x="334.50" y="673.20" font-size="9.85" text-anchor="middle" font-weight="normal" font-style="normal" >day 0</text>
<text x="386.30" y="673.20" font-size="9.85" text-anchor="middle" font-weight="normal" font-style="normal" >day 4</text>
<text x="439.30" y="673.20" font-size="9.85" text-anchor="middle" font-weight="normal" font-style="normal" >day 28</text>
<text font-size="10.2" text-anchor="middle" transform="translate(272.70 602.3) rotate(-90)">Subject #381546</text>
<text font-size="10.2" text-anchor="middle" transform="translate(284.90 602.3) rotate(-90)">Genetic diversity (%)</text>
<line x1="331.00" y1="549.70" x2="435.00" y2="549.70" stroke="#222" stroke-width="1.4"/>
<text x="381.00" y="544.60" font-size="9.55" text-anchor="middle" font-weight="normal" font-style="italic" class="pv">p=NS</text>
<line x1="331.00" y1="568.80" x2="382.80" y2="568.80" stroke="#222" stroke-width="1.4"/>
<text x="361.50" y="563.80" font-size="9.55" text-anchor="middle" font-weight="normal" font-style="italic" class="pv">p&lt;0.001</text>
<line x1="312.25" y1="619.40" x2="345.50" y2="619.40" stroke="#222" stroke-width="1.0"/>
<line x1="365.00" y1="612.50" x2="398.75" y2="612.50" stroke="#222" stroke-width="1.0"/>
<line x1="416.00" y1="619.50" x2="450.60" y2="619.50" stroke="#222" stroke-width="1.0"/>
<circle cx="330.40" cy="586.90" r="1.95" fill="#566ade" stroke="#090d3a" stroke-width="1.05"/>
<circle cx="330.40" cy="610.25" r="1.95" fill="#566ade" stroke="#090d3a" stroke-width="1.05"/>
<circle cx="333.50" cy="613.10" r="1.95" fill="#566ade" stroke="#090d3a" stroke-width="1.05"/>
<circle cx="317.50" cy="617.25" r="1.95" fill="#566ade" stroke="#090d3a" stroke-width="1.05"/>
<circle cx="323.75" cy="616.90" r="1.95" fill="#566ade" stroke="#090d3a" stroke-width="1.05"/>
<circle cx="330.40" cy="618.75" r="1.95" fill="#566ade" stroke="#090d3a" stroke-width="1.05"/>
<circle cx="336.25" cy="617.25" r="1.95" fill="#566ade" stroke="#090d3a" stroke-width="1.05"/>
<circle cx="342.50" cy="617.25" r="1.95" fill="#566ade" stroke="#090d3a" stroke-width="1.05"/>
<circle cx="344.60" cy="620.00" r="1.95" fill="#566ade" stroke="#090d3a" stroke-width="1.05"/>
<circle cx="322.50" cy="621.25" r="1.95" fill="#566ade" stroke="#090d3a" stroke-width="1.05"/>
<circle cx="328.75" cy="622.50" r="1.95" fill="#566ade" stroke="#090d3a" stroke-width="1.05"/>
<circle cx="337.50" cy="622.50" r="1.95" fill="#566ade" stroke="#090d3a" stroke-width="1.05"/>
<circle cx="317.50" cy="625.00" r="1.95" fill="#566ade" stroke="#090d3a" stroke-width="1.05"/>
<circle cx="323.75" cy="625.60" r="1.95" fill="#566ade" stroke="#090d3a" stroke-width="1.05"/>
<circle cx="330.40" cy="626.90" r="1.95" fill="#566ade" stroke="#090d3a" stroke-width="1.05"/>
<circle cx="336.25" cy="626.50" r="1.95" fill="#566ade" stroke="#090d3a" stroke-width="1.05"/>
<circle cx="342.50" cy="625.25" r="1.95" fill="#566ade" stroke="#090d3a" stroke-width="1.05"/>
<circle cx="320.60" cy="623.75" r="1.95" fill="#566ade" stroke="#090d3a" stroke-width="1.05"/>
<circle cx="326.90" cy="624.40" r="1.95" fill="#566ade" stroke="#090d3a" stroke-width="1.05"/>
<circle cx="333.10" cy="624.40" r="1.95" fill="#566ade" stroke="#090d3a" stroke-width="1.05"/>
<circle cx="339.75" cy="624.00" r="1.95" fill="#566ade" stroke="#090d3a" stroke-width="1.05"/>
<circle cx="369.40" cy="601.00" r="1.95" fill="#566ade" stroke="#090d3a" stroke-width="1.05"/>
<circle cx="375.60" cy="601.00" r="1.95" fill="#566ade" stroke="#090d3a" stroke-width="1.05"/>
<circle cx="385.00" cy="600.00" r="1.95" fill="#566ade" stroke="#090d3a" stroke-width="1.05"/>
<circle cx="381.60" cy="603.75" r="1.95" fill="#566ade" stroke="#090d3a" stroke-width="1.05"/>
<circle cx="387.90" cy="602.75" r="1.95" fill="#566ade" stroke="#090d3a" stroke-width="1.05"/>
<circle cx="394.40" cy="600.90" r="1.95" fill="#566ade" stroke="#090d3a" stroke-width="1.05"/>
<circle cx="381.60" cy="611.90" r="1.95" fill="#566ade" stroke="#090d3a" stroke-width="1.05"/>
<circle cx="368.10" cy="613.75" r="1.95" fill="#566ade" stroke="#090d3a" stroke-width="1.05"/>
<circle cx="375.00" cy="613.75" r="1.95" fill="#566ade" stroke="#090d3a" stroke-width="1.05"/>
<circle cx="388.75" cy="613.75" r="1.95" fill="#566ade" stroke="#090d3a" stroke-width="1.05"/>
<circle cx="395.60" cy="613.75" r="1.95" fill="#566ade" stroke="#090d3a" stroke-width="1.05"/>
<circle cx="369.40" cy="616.90" r="1.95" fill="#566ade" stroke="#090d3a" stroke-width="1.05"/>
<circle cx="378.75" cy="615.60" r="1.95" fill="#566ade" stroke="#090d3a" stroke-width="1.05"/>
<circle cx="385.00" cy="615.60" r="1.95" fill="#566ade" stroke="#090d3a" stroke-width="1.05"/>
<circle cx="394.40" cy="617.50" r="1.95" fill="#566ade" stroke="#090d3a" stroke-width="1.05"/>
<circle cx="375.00" cy="619.40" r="1.95" fill="#566ade" stroke="#090d3a" stroke-width="1.05"/>
<circle cx="381.60" cy="620.00" r="1.95" fill="#566ade" stroke="#090d3a" stroke-width="1.05"/>
<circle cx="387.90" cy="619.75" r="1.95" fill="#566ade" stroke="#090d3a" stroke-width="1.05"/>
<circle cx="391.25" cy="616.90" r="1.95" fill="#566ade" stroke="#090d3a" stroke-width="1.05"/>
<circle cx="371.90" cy="615.60" r="1.95" fill="#566ade" stroke="#090d3a" stroke-width="1.05"/>
<circle cx="427.50" cy="595.90" r="1.95" fill="#566ade" stroke="#090d3a" stroke-width="1.05"/>
<circle cx="433.50" cy="600.00" r="1.95" fill="#566ade" stroke="#090d3a" stroke-width="1.05"/>
<circle cx="439.75" cy="600.00" r="1.95" fill="#566ade" stroke="#090d3a" stroke-width="1.05"/>
<circle cx="446.00" cy="595.40" r="1.95" fill="#566ade" stroke="#090d3a" stroke-width="1.05"/>
<circle cx="427.50" cy="619.10" r="1.95" fill="#566ade" stroke="#090d3a" stroke-width="1.05"/>
<circle cx="433.50" cy="619.10" r="1.95" fill="#566ade" stroke="#090d3a" stroke-width="1.05"/>
<circle cx="419.40" cy="623.10" r="1.95" fill="#566ade" stroke="#090d3a" stroke-width="1.05"/>
<circle cx="427.50" cy="622.50" r="1.95" fill="#566ade" stroke="#090d3a" stroke-width="1.05"/>
<circle cx="433.50" cy="623.10" r="1.95" fill="#566ade" stroke="#090d3a" stroke-width="1.05"/>
<circle cx="440.60" cy="621.90" r="1.95" fill="#566ade" stroke="#090d3a" stroke-width="1.05"/>
<circle cx="447.50" cy="623.10" r="1.95" fill="#566ade" stroke="#090d3a" stroke-width="1.05"/>
<circle cx="421.25" cy="625.60" r="1.95" fill="#566ade" stroke="#090d3a" stroke-width="1.05"/>
<circle cx="424.40" cy="624.40" r="1.95" fill="#566ade" stroke="#090d3a" stroke-width="1.05"/>
<circle cx="427.50" cy="626.50" r="1.95" fill="#566ade" stroke="#090d3a" stroke-width="1.05"/>
<circle cx="430.60" cy="624.75" r="1.95" fill="#566ade" stroke="#090d3a" stroke-width="1.05"/>
<circle cx="433.50" cy="626.90" r="1.95" fill="#566ade" stroke="#090d3a" stroke-width="1.05"/>
<circle cx="436.90" cy="625.00" r="1.95" fill="#566ade" stroke="#090d3a" stroke-width="1.05"/>
<circle cx="439.75" cy="626.90" r="1.95" fill="#566ade" stroke="#090d3a" stroke-width="1.05"/>
<circle cx="443.10" cy="625.00" r="1.95" fill="#566ade" stroke="#090d3a" stroke-width="1.05"/>
<circle cx="446.00" cy="625.60" r="1.95" fill="#566ade" stroke="#090d3a" stroke-width="1.05"/>
</g>
</g>
</svg>
</body></html>
